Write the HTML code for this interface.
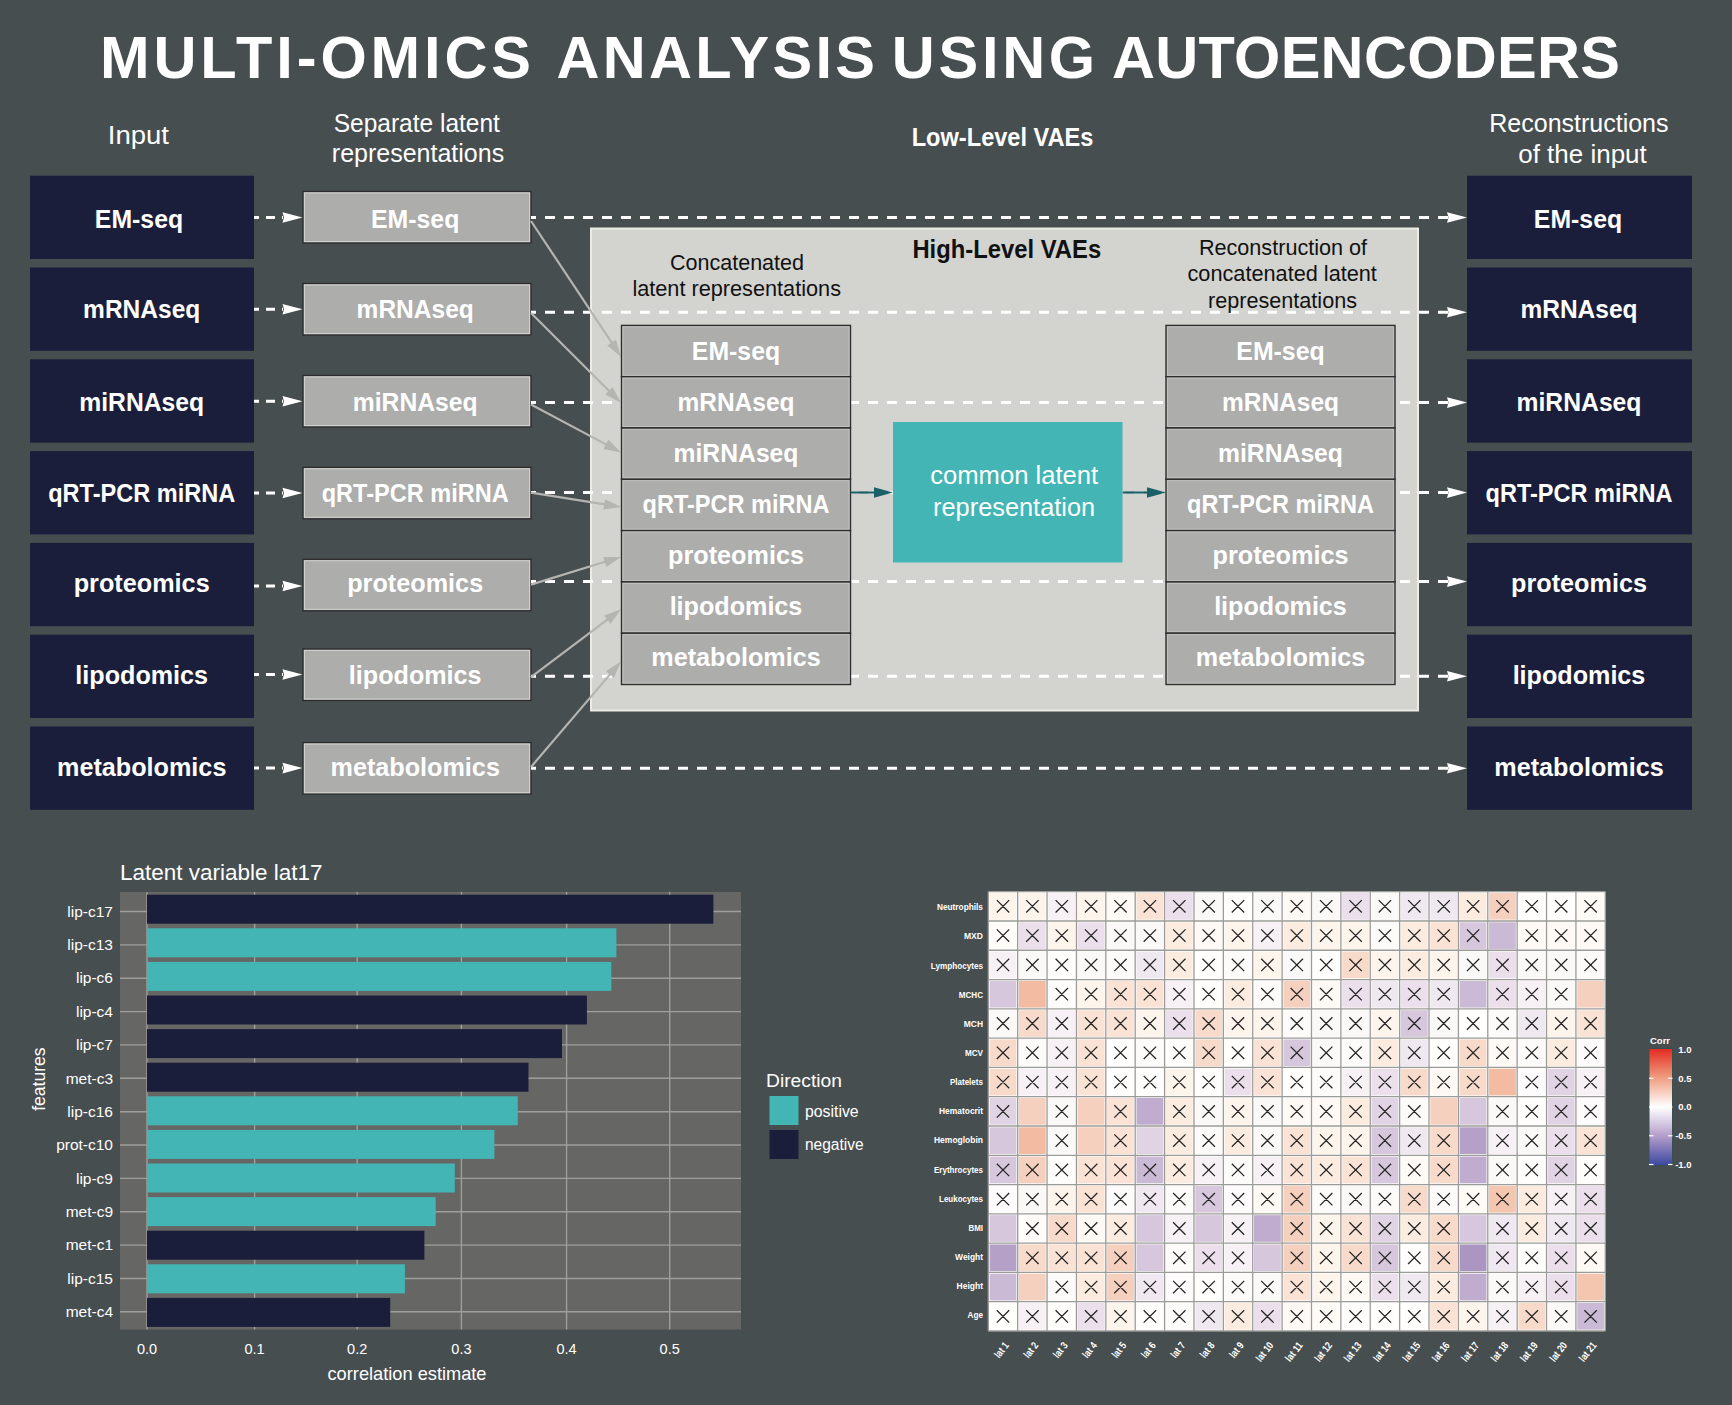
<!DOCTYPE html>
<html><head><meta charset="utf-8"><style>html,body{margin:0;padding:0;background:#474e50;}svg{display:block}</style></head>
<body><svg width="1732" height="1405" viewBox="0 0 1732 1405" font-family='"Liberation Sans", sans-serif'><rect x="0" y="0" width="1732" height="1405" fill="#474e50"/>
<text x="100" y="78" font-size="59.5" font-weight="bold" fill="#fff" text-anchor="start" textLength="431" lengthAdjust="spacing" >MULTI-OMICS</text>
<text x="556.4" y="78" font-size="59.5" font-weight="bold" fill="#fff" text-anchor="start" textLength="318.6" lengthAdjust="spacing" >ANALYSIS</text>
<text x="891.8" y="78" font-size="59.5" font-weight="bold" fill="#fff" text-anchor="start" textLength="203.3" lengthAdjust="spacing" >USING</text>
<text x="1112" y="78" font-size="59.5" font-weight="bold" fill="#fff" text-anchor="start" textLength="507.9" lengthAdjust="spacing" >AUTOENCODERS</text>
<text x="138.4" y="144.2" font-size="25.5" font-weight="normal" fill="#fff" text-anchor="middle" textLength="61.2" lengthAdjust="spacingAndGlyphs" >Input</text>
<text x="416.8" y="131.8" font-size="25" font-weight="normal" fill="#fff" text-anchor="middle" textLength="166.3" lengthAdjust="spacingAndGlyphs" >Separate latent</text>
<text x="418" y="162" font-size="25" font-weight="normal" fill="#fff" text-anchor="middle" textLength="172.3" lengthAdjust="spacingAndGlyphs" >representations</text>
<text x="1002.6" y="146" font-size="26" font-weight="bold" fill="#fff" text-anchor="middle" textLength="181.8" lengthAdjust="spacingAndGlyphs" >Low-Level VAEs</text>
<text x="1578.9" y="131.8" font-size="25" font-weight="normal" fill="#fff" text-anchor="middle" textLength="179.2" lengthAdjust="spacingAndGlyphs" >Reconstructions</text>
<text x="1582.5" y="163" font-size="25" font-weight="normal" fill="#fff" text-anchor="middle" textLength="128.6" lengthAdjust="spacingAndGlyphs" >of the input</text>
<defs>
<marker id="wah" viewBox="0 0 20 12" refX="20" refY="6" markerWidth="20" markerHeight="12" markerUnits="userSpaceOnUse" orient="auto"><path d="M0,0 L20,6 L0,12 L4,6 Z" fill="#fff"/></marker>
</defs>
<rect x="30" y="175.7" width="224" height="83.3" fill="#1b1e3a" />
<text x="139" y="228" font-size="25" font-weight="bold" fill="#fff" text-anchor="middle" textLength="88.3" lengthAdjust="spacingAndGlyphs" >EM-seq</text>
<rect x="30" y="267.5" width="224" height="83.3" fill="#1b1e3a" />
<text x="141.7" y="318" font-size="25" font-weight="bold" fill="#fff" text-anchor="middle" textLength="117.2" lengthAdjust="spacingAndGlyphs" >mRNAseq</text>
<rect x="30" y="359.29999999999995" width="224" height="83.3" fill="#1b1e3a" />
<text x="141.7" y="410.8" font-size="25" font-weight="bold" fill="#fff" text-anchor="middle" textLength="124.9" lengthAdjust="spacingAndGlyphs" >miRNAseq</text>
<rect x="30" y="451.09999999999997" width="224" height="83.3" fill="#1b1e3a" />
<text x="141.7" y="502.4" font-size="25" font-weight="bold" fill="#fff" text-anchor="middle" textLength="186.9" lengthAdjust="spacingAndGlyphs" >qRT-PCR miRNA</text>
<rect x="30" y="542.9" width="224" height="83.3" fill="#1b1e3a" />
<text x="141.7" y="592.4" font-size="25" font-weight="bold" fill="#fff" text-anchor="middle" textLength="136.0" lengthAdjust="spacingAndGlyphs" >proteomics</text>
<rect x="30" y="634.7" width="224" height="83.3" fill="#1b1e3a" />
<text x="141.7" y="684.4" font-size="25" font-weight="bold" fill="#fff" text-anchor="middle" textLength="132.7" lengthAdjust="spacingAndGlyphs" >lipodomics</text>
<rect x="30" y="726.5" width="224" height="83.3" fill="#1b1e3a" />
<text x="141.7" y="776.3" font-size="25" font-weight="bold" fill="#fff" text-anchor="middle" textLength="169.4" lengthAdjust="spacingAndGlyphs" >metabolomics</text>
<rect x="1467" y="175.7" width="225" height="83.3" fill="#1b1e3a" />
<text x="1578" y="228" font-size="25" font-weight="bold" fill="#fff" text-anchor="middle" textLength="88.3" lengthAdjust="spacingAndGlyphs" >EM-seq</text>
<rect x="1467" y="267.5" width="225" height="83.3" fill="#1b1e3a" />
<text x="1579" y="318" font-size="25" font-weight="bold" fill="#fff" text-anchor="middle" textLength="117.2" lengthAdjust="spacingAndGlyphs" >mRNAseq</text>
<rect x="1467" y="359.29999999999995" width="225" height="83.3" fill="#1b1e3a" />
<text x="1579" y="410.8" font-size="25" font-weight="bold" fill="#fff" text-anchor="middle" textLength="124.9" lengthAdjust="spacingAndGlyphs" >miRNAseq</text>
<rect x="1467" y="451.09999999999997" width="225" height="83.3" fill="#1b1e3a" />
<text x="1579" y="502.4" font-size="25" font-weight="bold" fill="#fff" text-anchor="middle" textLength="186.9" lengthAdjust="spacingAndGlyphs" >qRT-PCR miRNA</text>
<rect x="1467" y="542.9" width="225" height="83.3" fill="#1b1e3a" />
<text x="1579" y="592.4" font-size="25" font-weight="bold" fill="#fff" text-anchor="middle" textLength="136.0" lengthAdjust="spacingAndGlyphs" >proteomics</text>
<rect x="1467" y="634.7" width="225" height="83.3" fill="#1b1e3a" />
<text x="1579" y="684.4" font-size="25" font-weight="bold" fill="#fff" text-anchor="middle" textLength="132.7" lengthAdjust="spacingAndGlyphs" >lipodomics</text>
<rect x="1467" y="726.5" width="225" height="83.3" fill="#1b1e3a" />
<text x="1579" y="776.3" font-size="25" font-weight="bold" fill="#fff" text-anchor="middle" textLength="169.4" lengthAdjust="spacingAndGlyphs" >metabolomics</text>
<line x1="254" y1="217.5" x2="283" y2="217.5" stroke="#fff" stroke-width="3" stroke-dasharray="5 7 9 7"/>
<path d="M282.5,212.2 L302.5,217.5 L282.5,222.8 L284,217.5 Z" fill="#fff"/>
<line x1="254" y1="309.3" x2="283" y2="309.3" stroke="#fff" stroke-width="3" stroke-dasharray="5 7 9 7"/>
<path d="M282.5,304.0 L302.5,309.3 L282.5,314.6 L284,309.3 Z" fill="#fff"/>
<line x1="254" y1="401.3" x2="283" y2="401.3" stroke="#fff" stroke-width="3" stroke-dasharray="5 7 9 7"/>
<path d="M282.5,396.0 L302.5,401.3 L282.5,406.6 L284,401.3 Z" fill="#fff"/>
<line x1="254" y1="493.0" x2="283" y2="493.0" stroke="#fff" stroke-width="3" stroke-dasharray="5 7 9 7"/>
<path d="M282.5,487.7 L302.5,493.0 L282.5,498.3 L284,493.0 Z" fill="#fff"/>
<line x1="254" y1="586.0" x2="283" y2="586.0" stroke="#fff" stroke-width="3" stroke-dasharray="5 7 9 7"/>
<path d="M282.5,580.7 L302.5,586.0 L282.5,591.3 L284,586.0 Z" fill="#fff"/>
<line x1="254" y1="674.5" x2="283" y2="674.5" stroke="#fff" stroke-width="3" stroke-dasharray="5 7 9 7"/>
<path d="M282.5,669.2 L302.5,674.5 L282.5,679.8 L284,674.5 Z" fill="#fff"/>
<line x1="254" y1="768.1" x2="283" y2="768.1" stroke="#fff" stroke-width="3" stroke-dasharray="5 7 9 7"/>
<path d="M282.5,762.8000000000001 L302.5,768.1 L282.5,773.4 L284,768.1 Z" fill="#fff"/>
<rect x="303" y="191.5" width="228" height="51.5" fill="#adadac" stroke="#2b2b2b" stroke-width="1.3" />
<rect x="304.5" y="193.0" width="225" height="48.5" fill="none" stroke="#cfcfcb" stroke-width="1" />
<text x="415.2" y="228" font-size="25" font-weight="bold" fill="#fff" text-anchor="middle" textLength="88.3" lengthAdjust="spacingAndGlyphs" >EM-seq</text>
<rect x="303" y="283.5" width="228" height="51.5" fill="#adadac" stroke="#2b2b2b" stroke-width="1.3" />
<rect x="304.5" y="285.0" width="225" height="48.5" fill="none" stroke="#cfcfcb" stroke-width="1" />
<text x="415.2" y="318" font-size="25" font-weight="bold" fill="#fff" text-anchor="middle" textLength="117.2" lengthAdjust="spacingAndGlyphs" >mRNAseq</text>
<rect x="303" y="375.5" width="228" height="51.5" fill="#adadac" stroke="#2b2b2b" stroke-width="1.3" />
<rect x="304.5" y="377.0" width="225" height="48.5" fill="none" stroke="#cfcfcb" stroke-width="1" />
<text x="415.2" y="410.8" font-size="25" font-weight="bold" fill="#fff" text-anchor="middle" textLength="124.9" lengthAdjust="spacingAndGlyphs" >miRNAseq</text>
<rect x="303" y="467.3" width="228" height="51.5" fill="#adadac" stroke="#2b2b2b" stroke-width="1.3" />
<rect x="304.5" y="468.8" width="225" height="48.5" fill="none" stroke="#cfcfcb" stroke-width="1" />
<text x="415.2" y="502.4" font-size="25" font-weight="bold" fill="#fff" text-anchor="middle" textLength="186.9" lengthAdjust="spacingAndGlyphs" >qRT-PCR miRNA</text>
<rect x="303" y="559.3" width="228" height="51.5" fill="#adadac" stroke="#2b2b2b" stroke-width="1.3" />
<rect x="304.5" y="560.8" width="225" height="48.5" fill="none" stroke="#cfcfcb" stroke-width="1" />
<text x="415.2" y="592.4" font-size="25" font-weight="bold" fill="#fff" text-anchor="middle" textLength="136.0" lengthAdjust="spacingAndGlyphs" >proteomics</text>
<rect x="303" y="649.0" width="228" height="51.5" fill="#adadac" stroke="#2b2b2b" stroke-width="1.3" />
<rect x="304.5" y="650.5" width="225" height="48.5" fill="none" stroke="#cfcfcb" stroke-width="1" />
<text x="415.2" y="684.4" font-size="25" font-weight="bold" fill="#fff" text-anchor="middle" textLength="132.7" lengthAdjust="spacingAndGlyphs" >lipodomics</text>
<rect x="303" y="742.6" width="228" height="51.5" fill="#adadac" stroke="#2b2b2b" stroke-width="1.3" />
<rect x="304.5" y="744.1" width="225" height="48.5" fill="none" stroke="#cfcfcb" stroke-width="1" />
<text x="415.2" y="776.3" font-size="25" font-weight="bold" fill="#fff" text-anchor="middle" textLength="169.4" lengthAdjust="spacingAndGlyphs" >metabolomics</text>
<rect x="591" y="228.5" width="827" height="482" fill="#d3d4cf" stroke="#ecebe4" stroke-width="2" />
<line x1="531" y1="217.5" x2="1448" y2="217.5" stroke="#fff" stroke-width="3" stroke-dasharray="10 9" stroke-dashoffset="5"/>
<path d="M1447,212.2 L1467,217.5 L1447,222.8 L1448.5,217.5 Z" fill="#fff"/>
<line x1="531" y1="312.2" x2="1448" y2="312.2" stroke="#fff" stroke-width="3" stroke-dasharray="10 9" stroke-dashoffset="5"/>
<path d="M1447,306.9 L1467,312.2 L1447,317.5 L1448.5,312.2 Z" fill="#fff"/>
<line x1="531" y1="402.6" x2="1448" y2="402.6" stroke="#fff" stroke-width="3" stroke-dasharray="10 9" stroke-dashoffset="5"/>
<path d="M1447,397.3 L1467,402.6 L1447,407.90000000000003 L1448.5,402.6 Z" fill="#fff"/>
<line x1="531" y1="492.6" x2="1448" y2="492.6" stroke="#fff" stroke-width="3" stroke-dasharray="10 9" stroke-dashoffset="5"/>
<path d="M1447,487.3 L1467,492.6 L1447,497.90000000000003 L1448.5,492.6 Z" fill="#fff"/>
<line x1="531" y1="581.6" x2="1448" y2="581.6" stroke="#fff" stroke-width="3" stroke-dasharray="10 9" stroke-dashoffset="5"/>
<path d="M1447,576.3000000000001 L1467,581.6 L1447,586.9 L1448.5,581.6 Z" fill="#fff"/>
<line x1="531" y1="676.2" x2="1448" y2="676.2" stroke="#fff" stroke-width="3" stroke-dasharray="10 9" stroke-dashoffset="5"/>
<path d="M1447,670.9000000000001 L1467,676.2 L1447,681.5 L1448.5,676.2 Z" fill="#fff"/>
<line x1="531" y1="768.2" x2="1448" y2="768.2" stroke="#fff" stroke-width="3" stroke-dasharray="10 9" stroke-dashoffset="5"/>
<path d="M1447,762.9000000000001 L1467,768.2 L1447,773.5 L1448.5,768.2 Z" fill="#fff"/>
<line x1="531" y1="221" x2="612.7" y2="344.2" stroke="#b4b4b0" stroke-width="2.2"/>
<path d="M621,356.7 L607.3,345.4 L615.9,339.7 Z" fill="#b4b4b0"/>
<line x1="531" y1="313" x2="610.4" y2="392.2" stroke="#b4b4b0" stroke-width="2.2"/>
<path d="M621,402.8 L605.3,394.5 L612.6,387.1 Z" fill="#b4b4b0"/>
<line x1="531" y1="404.5" x2="607.8" y2="445.4" stroke="#b4b4b0" stroke-width="2.2"/>
<path d="M621,452.4 L603.5,449.0 L608.4,439.8 Z" fill="#b4b4b0"/>
<line x1="531" y1="492.6" x2="606.2" y2="504.6" stroke="#b4b4b0" stroke-width="2.2"/>
<path d="M621,507 L603.4,509.4 L605.0,499.2 Z" fill="#b4b4b0"/>
<line x1="531" y1="584.6" x2="606.7" y2="561.3" stroke="#b4b4b0" stroke-width="2.2"/>
<path d="M621,556.9 L606.3,566.9 L603.2,556.9 Z" fill="#b4b4b0"/>
<line x1="531" y1="677.2" x2="609.0" y2="618.3" stroke="#b4b4b0" stroke-width="2.2"/>
<path d="M621,609.3 L610.6,623.7 L604.3,615.4 Z" fill="#b4b4b0"/>
<line x1="531" y1="767" x2="611.3" y2="672.9" stroke="#b4b4b0" stroke-width="2.2"/>
<path d="M621,661.5 L613.9,677.8 L606.0,671.1 Z" fill="#b4b4b0"/>
<text x="737" y="269.8" font-size="22" font-weight="normal" fill="#111" text-anchor="middle" textLength="134" lengthAdjust="spacingAndGlyphs" >Concatenated</text>
<text x="736.7" y="296.3" font-size="22" font-weight="normal" fill="#111" text-anchor="middle" textLength="208.6" lengthAdjust="spacingAndGlyphs" >latent representations</text>
<text x="1006.8" y="257.9" font-size="25.4" font-weight="bold" fill="#111" text-anchor="middle" textLength="188.8" lengthAdjust="spacingAndGlyphs" >High-Level VAEs</text>
<text x="1283" y="254.6" font-size="22" font-weight="normal" fill="#111" text-anchor="middle" textLength="168.2" lengthAdjust="spacingAndGlyphs" >Reconstruction of</text>
<text x="1282.2" y="281.1" font-size="22" font-weight="normal" fill="#111" text-anchor="middle" textLength="189.4" lengthAdjust="spacingAndGlyphs" >concatenated latent</text>
<text x="1282.5" y="307.7" font-size="22" font-weight="normal" fill="#111" text-anchor="middle" textLength="149" lengthAdjust="spacingAndGlyphs" >representations</text>
<rect x="621.5" y="325.4" width="229" height="51.3" fill="#adadac" stroke="#2e2e2e" stroke-width="1.4" />
<rect x="623.0" y="326.9" width="226" height="48.3" fill="none" stroke="#c4c4c0" stroke-width="0.8" />
<text x="736.0" y="360.0" font-size="25" font-weight="bold" fill="#fff" text-anchor="middle" textLength="88.3" lengthAdjust="spacingAndGlyphs" >EM-seq</text>
<rect x="621.5" y="376.7" width="229" height="51.3" fill="#adadac" stroke="#2e2e2e" stroke-width="1.4" />
<rect x="623.0" y="378.2" width="226" height="48.3" fill="none" stroke="#c4c4c0" stroke-width="0.8" />
<text x="736.0" y="411.0" font-size="25" font-weight="bold" fill="#fff" text-anchor="middle" textLength="117.2" lengthAdjust="spacingAndGlyphs" >mRNAseq</text>
<rect x="621.5" y="428.0" width="229" height="51.3" fill="#adadac" stroke="#2e2e2e" stroke-width="1.4" />
<rect x="623.0" y="429.5" width="226" height="48.3" fill="none" stroke="#c4c4c0" stroke-width="0.8" />
<text x="736.0" y="462.0" font-size="25" font-weight="bold" fill="#fff" text-anchor="middle" textLength="124.9" lengthAdjust="spacingAndGlyphs" >miRNAseq</text>
<rect x="621.5" y="479.29999999999995" width="229" height="51.3" fill="#adadac" stroke="#2e2e2e" stroke-width="1.4" />
<rect x="623.0" y="480.79999999999995" width="226" height="48.3" fill="none" stroke="#c4c4c0" stroke-width="0.8" />
<text x="736.0" y="513.0" font-size="25" font-weight="bold" fill="#fff" text-anchor="middle" textLength="186.9" lengthAdjust="spacingAndGlyphs" >qRT-PCR miRNA</text>
<rect x="621.5" y="530.5999999999999" width="229" height="51.3" fill="#adadac" stroke="#2e2e2e" stroke-width="1.4" />
<rect x="623.0" y="532.0999999999999" width="226" height="48.3" fill="none" stroke="#c4c4c0" stroke-width="0.8" />
<text x="736.0" y="564.0" font-size="25" font-weight="bold" fill="#fff" text-anchor="middle" textLength="136.0" lengthAdjust="spacingAndGlyphs" >proteomics</text>
<rect x="621.5" y="581.9" width="229" height="51.3" fill="#adadac" stroke="#2e2e2e" stroke-width="1.4" />
<rect x="623.0" y="583.4" width="226" height="48.3" fill="none" stroke="#c4c4c0" stroke-width="0.8" />
<text x="736.0" y="615.0" font-size="25" font-weight="bold" fill="#fff" text-anchor="middle" textLength="132.7" lengthAdjust="spacingAndGlyphs" >lipodomics</text>
<rect x="621.5" y="633.1999999999999" width="229" height="51.3" fill="#adadac" stroke="#2e2e2e" stroke-width="1.4" />
<rect x="623.0" y="634.6999999999999" width="226" height="48.3" fill="none" stroke="#c4c4c0" stroke-width="0.8" />
<text x="736.0" y="666.0" font-size="25" font-weight="bold" fill="#fff" text-anchor="middle" textLength="169.4" lengthAdjust="spacingAndGlyphs" >metabolomics</text>
<rect x="1166" y="325.4" width="229" height="51.3" fill="#adadac" stroke="#2e2e2e" stroke-width="1.4" />
<rect x="1167.5" y="326.9" width="226" height="48.3" fill="none" stroke="#c4c4c0" stroke-width="0.8" />
<text x="1280.5" y="360.0" font-size="25" font-weight="bold" fill="#fff" text-anchor="middle" textLength="88.3" lengthAdjust="spacingAndGlyphs" >EM-seq</text>
<rect x="1166" y="376.7" width="229" height="51.3" fill="#adadac" stroke="#2e2e2e" stroke-width="1.4" />
<rect x="1167.5" y="378.2" width="226" height="48.3" fill="none" stroke="#c4c4c0" stroke-width="0.8" />
<text x="1280.5" y="411.0" font-size="25" font-weight="bold" fill="#fff" text-anchor="middle" textLength="117.2" lengthAdjust="spacingAndGlyphs" >mRNAseq</text>
<rect x="1166" y="428.0" width="229" height="51.3" fill="#adadac" stroke="#2e2e2e" stroke-width="1.4" />
<rect x="1167.5" y="429.5" width="226" height="48.3" fill="none" stroke="#c4c4c0" stroke-width="0.8" />
<text x="1280.5" y="462.0" font-size="25" font-weight="bold" fill="#fff" text-anchor="middle" textLength="124.9" lengthAdjust="spacingAndGlyphs" >miRNAseq</text>
<rect x="1166" y="479.29999999999995" width="229" height="51.3" fill="#adadac" stroke="#2e2e2e" stroke-width="1.4" />
<rect x="1167.5" y="480.79999999999995" width="226" height="48.3" fill="none" stroke="#c4c4c0" stroke-width="0.8" />
<text x="1280.5" y="513.0" font-size="25" font-weight="bold" fill="#fff" text-anchor="middle" textLength="186.9" lengthAdjust="spacingAndGlyphs" >qRT-PCR miRNA</text>
<rect x="1166" y="530.5999999999999" width="229" height="51.3" fill="#adadac" stroke="#2e2e2e" stroke-width="1.4" />
<rect x="1167.5" y="532.0999999999999" width="226" height="48.3" fill="none" stroke="#c4c4c0" stroke-width="0.8" />
<text x="1280.5" y="564.0" font-size="25" font-weight="bold" fill="#fff" text-anchor="middle" textLength="136.0" lengthAdjust="spacingAndGlyphs" >proteomics</text>
<rect x="1166" y="581.9" width="229" height="51.3" fill="#adadac" stroke="#2e2e2e" stroke-width="1.4" />
<rect x="1167.5" y="583.4" width="226" height="48.3" fill="none" stroke="#c4c4c0" stroke-width="0.8" />
<text x="1280.5" y="615.0" font-size="25" font-weight="bold" fill="#fff" text-anchor="middle" textLength="132.7" lengthAdjust="spacingAndGlyphs" >lipodomics</text>
<rect x="1166" y="633.1999999999999" width="229" height="51.3" fill="#adadac" stroke="#2e2e2e" stroke-width="1.4" />
<rect x="1167.5" y="634.6999999999999" width="226" height="48.3" fill="none" stroke="#c4c4c0" stroke-width="0.8" />
<text x="1280.5" y="666.0" font-size="25" font-weight="bold" fill="#fff" text-anchor="middle" textLength="169.4" lengthAdjust="spacingAndGlyphs" >metabolomics</text>
<rect x="893" y="422" width="229.5" height="140.5" fill="#42b5b4" />
<text x="1014.2" y="484.2" font-size="25" font-weight="normal" fill="#fff" text-anchor="middle" textLength="168" lengthAdjust="spacingAndGlyphs" >common latent</text>
<text x="1014.1" y="515.6" font-size="25" font-weight="normal" fill="#fff" text-anchor="middle" textLength="162" lengthAdjust="spacingAndGlyphs" >representation</text>
<line x1="850.5" y1="492.5" x2="878" y2="492.5" stroke="#1b5f68" stroke-width="2.2"/>
<path d="M874,487.3 L893,492.5 L874,497.7 Z" fill="#1b5f68"/>
<line x1="1122.5" y1="492.5" x2="1151" y2="492.5" stroke="#1b5f68" stroke-width="2.2"/>
<path d="M1147,487.3 L1166,492.5 L1147,497.7 Z" fill="#1b5f68"/>
<rect x="120" y="892" width="621" height="437.5" fill="#666664" />
<line x1="147" y1="892" x2="147" y2="1329.5" stroke="#9e9e9a" stroke-width="1.4"/>
<line x1="254.6" y1="892" x2="254.6" y2="1329.5" stroke="#9e9e9a" stroke-width="1.4"/>
<line x1="357.2" y1="892" x2="357.2" y2="1329.5" stroke="#9e9e9a" stroke-width="1.4"/>
<line x1="461.4" y1="892" x2="461.4" y2="1329.5" stroke="#9e9e9a" stroke-width="1.4"/>
<line x1="566.6" y1="892" x2="566.6" y2="1329.5" stroke="#9e9e9a" stroke-width="1.4"/>
<line x1="669.7" y1="892" x2="669.7" y2="1329.5" stroke="#9e9e9a" stroke-width="1.4"/>
<line x1="120" y1="911.5" x2="741" y2="911.5" stroke="#9e9e9a" stroke-width="1.4"/>
<line x1="120" y1="944.9" x2="741" y2="944.9" stroke="#9e9e9a" stroke-width="1.4"/>
<line x1="120" y1="978.2" x2="741" y2="978.2" stroke="#9e9e9a" stroke-width="1.4"/>
<line x1="120" y1="1011.6" x2="741" y2="1011.6" stroke="#9e9e9a" stroke-width="1.4"/>
<line x1="120" y1="1044.9" x2="741" y2="1044.9" stroke="#9e9e9a" stroke-width="1.4"/>
<line x1="120" y1="1078.3" x2="741" y2="1078.3" stroke="#9e9e9a" stroke-width="1.4"/>
<line x1="120" y1="1111.7" x2="741" y2="1111.7" stroke="#9e9e9a" stroke-width="1.4"/>
<line x1="120" y1="1145.0" x2="741" y2="1145.0" stroke="#9e9e9a" stroke-width="1.4"/>
<line x1="120" y1="1178.4" x2="741" y2="1178.4" stroke="#9e9e9a" stroke-width="1.4"/>
<line x1="120" y1="1211.7" x2="741" y2="1211.7" stroke="#9e9e9a" stroke-width="1.4"/>
<line x1="120" y1="1245.1" x2="741" y2="1245.1" stroke="#9e9e9a" stroke-width="1.4"/>
<line x1="120" y1="1278.5" x2="741" y2="1278.5" stroke="#9e9e9a" stroke-width="1.4"/>
<line x1="120" y1="1311.8" x2="741" y2="1311.8" stroke="#9e9e9a" stroke-width="1.4"/>
<rect x="147.0" y="894.7" width="566.4" height="29.0" fill="#1b1e3a" />
<text x="113" y="916.7" font-size="15.5" font-weight="normal" fill="#fff" text-anchor="end" >lip-c17</text>
<rect x="147.0" y="928.3" width="469.4" height="29.0" fill="#42b5b4" />
<text x="113" y="950.1" font-size="15.5" font-weight="normal" fill="#fff" text-anchor="end" >lip-c13</text>
<rect x="147.0" y="961.9" width="464.29999999999995" height="29.0" fill="#42b5b4" />
<text x="113" y="983.4" font-size="15.5" font-weight="normal" fill="#fff" text-anchor="end" >lip-c6</text>
<rect x="147.0" y="995.5" width="439.9" height="29.0" fill="#1b1e3a" />
<text x="113" y="1016.8" font-size="15.5" font-weight="normal" fill="#fff" text-anchor="end" >lip-c4</text>
<rect x="147.0" y="1029.1" width="415.0" height="29.0" fill="#1b1e3a" />
<text x="113" y="1050.1" font-size="15.5" font-weight="normal" fill="#fff" text-anchor="end" >lip-c7</text>
<rect x="147.0" y="1062.7" width="381.5" height="29.0" fill="#1b1e3a" />
<text x="113" y="1083.5" font-size="15.5" font-weight="normal" fill="#fff" text-anchor="end" >met-c3</text>
<rect x="147.0" y="1096.3" width="370.79999999999995" height="29.0" fill="#42b5b4" />
<text x="113" y="1116.9" font-size="15.5" font-weight="normal" fill="#fff" text-anchor="end" >lip-c16</text>
<rect x="147.0" y="1129.9" width="347.4" height="29.0" fill="#42b5b4" />
<text x="113" y="1150.2" font-size="15.5" font-weight="normal" fill="#fff" text-anchor="end" >prot-c10</text>
<rect x="147.0" y="1163.5" width="307.8" height="29.0" fill="#42b5b4" />
<text x="113" y="1183.6" font-size="15.5" font-weight="normal" fill="#fff" text-anchor="end" >lip-c9</text>
<rect x="147.0" y="1197.1" width="288.7" height="29.0" fill="#42b5b4" />
<text x="113" y="1216.9" font-size="15.5" font-weight="normal" fill="#fff" text-anchor="end" >met-c9</text>
<rect x="147.0" y="1230.7" width="277.4" height="29.0" fill="#1b1e3a" />
<text x="113" y="1250.3" font-size="15.5" font-weight="normal" fill="#fff" text-anchor="end" >met-c1</text>
<rect x="147.0" y="1264.3" width="257.9" height="29.0" fill="#42b5b4" />
<text x="113" y="1283.7" font-size="15.5" font-weight="normal" fill="#fff" text-anchor="end" >lip-c15</text>
<rect x="147.0" y="1297.9" width="243.2" height="29.0" fill="#1b1e3a" />
<text x="113" y="1317.0" font-size="15.5" font-weight="normal" fill="#fff" text-anchor="end" >met-c4</text>
<text x="147" y="1353.8" font-size="14.5" font-weight="normal" fill="#fff" text-anchor="middle" >0.0</text>
<text x="254.6" y="1353.8" font-size="14.5" font-weight="normal" fill="#fff" text-anchor="middle" >0.1</text>
<text x="357.2" y="1353.8" font-size="14.5" font-weight="normal" fill="#fff" text-anchor="middle" >0.2</text>
<text x="461.4" y="1353.8" font-size="14.5" font-weight="normal" fill="#fff" text-anchor="middle" >0.3</text>
<text x="566.6" y="1353.8" font-size="14.5" font-weight="normal" fill="#fff" text-anchor="middle" >0.4</text>
<text x="669.7" y="1353.8" font-size="14.5" font-weight="normal" fill="#fff" text-anchor="middle" >0.5</text>
<text x="407" y="1379.6" font-size="19" font-weight="normal" fill="#fff" text-anchor="middle" textLength="159" lengthAdjust="spacingAndGlyphs" >correlation estimate</text>
<text x="120" y="880" font-size="22" font-weight="normal" fill="#fff" text-anchor="start" textLength="202.4" lengthAdjust="spacingAndGlyphs" >Latent variable lat17</text>
<text x="0" y="0" font-size="19" fill="#fff" text-anchor="middle" textLength="63.4" lengthAdjust="spacingAndGlyphs" transform="translate(45.3,1079.1) rotate(-90)">features</text>
<text x="766" y="1086.6" font-size="17.5" font-weight="normal" fill="#fff" text-anchor="start" textLength="76" lengthAdjust="spacingAndGlyphs" >Direction</text>
<rect x="769.5" y="1096" width="29" height="29" fill="#42b5b4" />
<rect x="769.5" y="1130" width="29" height="29" fill="#1b1e3a" />
<text x="805" y="1116.8" font-size="16" font-weight="normal" fill="#fff" text-anchor="start" textLength="53.6" lengthAdjust="spacingAndGlyphs" >positive</text>
<text x="805" y="1150" font-size="16" font-weight="normal" fill="#fff" text-anchor="start" textLength="58.6" lengthAdjust="spacingAndGlyphs" >negative</text>
<rect x="988.3" y="891.7" width="617.0" height="439.3" fill="#fdfdfb" />
<rect x="989.6" y="893.0" width="26.78" height="26.69" fill="#fdf4ec" />
<rect x="1018.98" y="893.0" width="26.78" height="26.69" fill="#fdf4ec" />
<rect x="1048.36" y="893.0" width="26.78" height="26.69" fill="#f7f1f5" />
<rect x="1077.74" y="893.0" width="26.78" height="26.69" fill="#fdf4ec" />
<rect x="1107.12" y="893.0" width="26.78" height="26.69" fill="#fef9f4" />
<rect x="1136.5" y="893.0" width="26.78" height="26.69" fill="#fae3d5" />
<rect x="1165.89" y="893.0" width="26.78" height="26.69" fill="#eadfea" />
<rect x="1195.27" y="893.0" width="26.78" height="26.69" fill="#fbf8f8" />
<rect x="1224.65" y="893.0" width="26.78" height="26.69" fill="#fffefc" />
<rect x="1254.03" y="893.0" width="26.78" height="26.69" fill="#fbf8f8" />
<rect x="1283.41" y="893.0" width="26.78" height="26.69" fill="#fef9f4" />
<rect x="1312.79" y="893.0" width="26.78" height="26.69" fill="#fbf8f8" />
<rect x="1342.17" y="893.0" width="26.78" height="26.69" fill="#eadfea" />
<rect x="1371.55" y="893.0" width="26.78" height="26.69" fill="#fbf8f8" />
<rect x="1400.93" y="893.0" width="26.78" height="26.69" fill="#f0e8f0" />
<rect x="1430.31" y="893.0" width="26.78" height="26.69" fill="#f0e8f0" />
<rect x="1459.7" y="893.0" width="26.78" height="26.69" fill="#fcece0" />
<rect x="1489.08" y="893.0" width="26.78" height="26.69" fill="#f6d0be" />
<rect x="1518.46" y="893.0" width="26.78" height="26.69" fill="#fffefc" />
<rect x="1547.84" y="893.0" width="26.78" height="26.69" fill="#fffefc" />
<rect x="1577.22" y="893.0" width="26.78" height="26.69" fill="#fefbf7" />
<rect x="989.6" y="922.29" width="26.78" height="26.69" fill="#fffcf9" />
<rect x="1018.98" y="922.29" width="26.78" height="26.69" fill="#eadfea" />
<rect x="1048.36" y="922.29" width="26.78" height="26.69" fill="#fdf4ec" />
<rect x="1077.74" y="922.29" width="26.78" height="26.69" fill="#eadfea" />
<rect x="1107.12" y="922.29" width="26.78" height="26.69" fill="#fbf8f8" />
<rect x="1136.5" y="922.29" width="26.78" height="26.69" fill="#fbf8f8" />
<rect x="1165.89" y="922.29" width="26.78" height="26.69" fill="#fcece0" />
<rect x="1195.27" y="922.29" width="26.78" height="26.69" fill="#fef9f4" />
<rect x="1224.65" y="922.29" width="26.78" height="26.69" fill="#fdf4ec" />
<rect x="1254.03" y="922.29" width="26.78" height="26.69" fill="#f7f1f5" />
<rect x="1283.41" y="922.29" width="26.78" height="26.69" fill="#fcece0" />
<rect x="1312.79" y="922.29" width="26.78" height="26.69" fill="#fdf4ec" />
<rect x="1342.17" y="922.29" width="26.78" height="26.69" fill="#fdf4ec" />
<rect x="1371.55" y="922.29" width="26.78" height="26.69" fill="#fdfafa" />
<rect x="1400.93" y="922.29" width="26.78" height="26.69" fill="#fcece0" />
<rect x="1430.31" y="922.29" width="26.78" height="26.69" fill="#fae3d5" />
<rect x="1459.7" y="922.29" width="26.78" height="26.69" fill="#d6c7dc" />
<rect x="1489.08" y="922.29" width="26.78" height="26.69" fill="#cbbad5" />
<rect x="1518.46" y="922.29" width="26.78" height="26.69" fill="#fef9f4" />
<rect x="1547.84" y="922.29" width="26.78" height="26.69" fill="#fef9f4" />
<rect x="1577.22" y="922.29" width="26.78" height="26.69" fill="#fef9f4" />
<rect x="989.6" y="951.57" width="26.78" height="26.69" fill="#f7f1f5" />
<rect x="1018.98" y="951.57" width="26.78" height="26.69" fill="#fbf8f8" />
<rect x="1048.36" y="951.57" width="26.78" height="26.69" fill="#fffefc" />
<rect x="1077.74" y="951.57" width="26.78" height="26.69" fill="#fbf8f8" />
<rect x="1107.12" y="951.57" width="26.78" height="26.69" fill="#fdfafa" />
<rect x="1136.5" y="951.57" width="26.78" height="26.69" fill="#f0e8f0" />
<rect x="1165.89" y="951.57" width="26.78" height="26.69" fill="#fcece0" />
<rect x="1195.27" y="951.57" width="26.78" height="26.69" fill="#fffefc" />
<rect x="1224.65" y="951.57" width="26.78" height="26.69" fill="#fdfafa" />
<rect x="1254.03" y="951.57" width="26.78" height="26.69" fill="#fdf4ec" />
<rect x="1283.41" y="951.57" width="26.78" height="26.69" fill="#fbf8f8" />
<rect x="1312.79" y="951.57" width="26.78" height="26.69" fill="#fffefc" />
<rect x="1342.17" y="951.57" width="26.78" height="26.69" fill="#f8daca" />
<rect x="1371.55" y="951.57" width="26.78" height="26.69" fill="#fdf4ec" />
<rect x="1400.93" y="951.57" width="26.78" height="26.69" fill="#fcece0" />
<rect x="1430.31" y="951.57" width="26.78" height="26.69" fill="#fdf4ec" />
<rect x="1459.7" y="951.57" width="26.78" height="26.69" fill="#fbf8f8" />
<rect x="1489.08" y="951.57" width="26.78" height="26.69" fill="#eadfea" />
<rect x="1518.46" y="951.57" width="26.78" height="26.69" fill="#fbf8f8" />
<rect x="1547.84" y="951.57" width="26.78" height="26.69" fill="#fbf8f8" />
<rect x="1577.22" y="951.57" width="26.78" height="26.69" fill="#fdfafa" />
<rect x="989.6" y="980.86" width="26.78" height="26.69" fill="#d6c7dc" />
<rect x="1018.98" y="980.86" width="26.78" height="26.69" fill="#f3bba2" />
<rect x="1048.36" y="980.86" width="26.78" height="26.69" fill="#fffefc" />
<rect x="1077.74" y="980.86" width="26.78" height="26.69" fill="#fdf4ec" />
<rect x="1107.12" y="980.86" width="26.78" height="26.69" fill="#fae3d5" />
<rect x="1136.5" y="980.86" width="26.78" height="26.69" fill="#fae3d5" />
<rect x="1165.89" y="980.86" width="26.78" height="26.69" fill="#f7f1f5" />
<rect x="1195.27" y="980.86" width="26.78" height="26.69" fill="#fffefc" />
<rect x="1224.65" y="980.86" width="26.78" height="26.69" fill="#fcece0" />
<rect x="1254.03" y="980.86" width="26.78" height="26.69" fill="#fdfafa" />
<rect x="1283.41" y="980.86" width="26.78" height="26.69" fill="#f6d0be" />
<rect x="1312.79" y="980.86" width="26.78" height="26.69" fill="#fef9f4" />
<rect x="1342.17" y="980.86" width="26.78" height="26.69" fill="#eadfea" />
<rect x="1371.55" y="980.86" width="26.78" height="26.69" fill="#f0e8f0" />
<rect x="1400.93" y="980.86" width="26.78" height="26.69" fill="#eadfea" />
<rect x="1430.31" y="980.86" width="26.78" height="26.69" fill="#f0e8f0" />
<rect x="1459.7" y="980.86" width="26.78" height="26.69" fill="#cbbad5" />
<rect x="1489.08" y="980.86" width="26.78" height="26.69" fill="#eadfea" />
<rect x="1518.46" y="980.86" width="26.78" height="26.69" fill="#f7f1f5" />
<rect x="1547.84" y="980.86" width="26.78" height="26.69" fill="#fbf8f8" />
<rect x="1577.22" y="980.86" width="26.78" height="26.69" fill="#f6d0be" />
<rect x="989.6" y="1010.15" width="26.78" height="26.69" fill="#fbf8f8" />
<rect x="1018.98" y="1010.15" width="26.78" height="26.69" fill="#f8daca" />
<rect x="1048.36" y="1010.15" width="26.78" height="26.69" fill="#f7f1f5" />
<rect x="1077.74" y="1010.15" width="26.78" height="26.69" fill="#fae3d5" />
<rect x="1107.12" y="1010.15" width="26.78" height="26.69" fill="#fae3d5" />
<rect x="1136.5" y="1010.15" width="26.78" height="26.69" fill="#fdf4ec" />
<rect x="1165.89" y="1010.15" width="26.78" height="26.69" fill="#eadfea" />
<rect x="1195.27" y="1010.15" width="26.78" height="26.69" fill="#f8daca" />
<rect x="1224.65" y="1010.15" width="26.78" height="26.69" fill="#fdf4ec" />
<rect x="1254.03" y="1010.15" width="26.78" height="26.69" fill="#fdf4ec" />
<rect x="1283.41" y="1010.15" width="26.78" height="26.69" fill="#fdfafa" />
<rect x="1312.79" y="1010.15" width="26.78" height="26.69" fill="#fbf8f8" />
<rect x="1342.17" y="1010.15" width="26.78" height="26.69" fill="#fbf8f8" />
<rect x="1371.55" y="1010.15" width="26.78" height="26.69" fill="#fdf4ec" />
<rect x="1400.93" y="1010.15" width="26.78" height="26.69" fill="#d6c7dc" />
<rect x="1430.31" y="1010.15" width="26.78" height="26.69" fill="#fbf8f8" />
<rect x="1459.7" y="1010.15" width="26.78" height="26.69" fill="#fffefc" />
<rect x="1489.08" y="1010.15" width="26.78" height="26.69" fill="#fdfafa" />
<rect x="1518.46" y="1010.15" width="26.78" height="26.69" fill="#f0e8f0" />
<rect x="1547.84" y="1010.15" width="26.78" height="26.69" fill="#fdf4ec" />
<rect x="1577.22" y="1010.15" width="26.78" height="26.69" fill="#fae3d5" />
<rect x="989.6" y="1039.43" width="26.78" height="26.69" fill="#f8daca" />
<rect x="1018.98" y="1039.43" width="26.78" height="26.69" fill="#fdfafa" />
<rect x="1048.36" y="1039.43" width="26.78" height="26.69" fill="#f7f1f5" />
<rect x="1077.74" y="1039.43" width="26.78" height="26.69" fill="#fae3d5" />
<rect x="1107.12" y="1039.43" width="26.78" height="26.69" fill="#fffefc" />
<rect x="1136.5" y="1039.43" width="26.78" height="26.69" fill="#fdfafa" />
<rect x="1165.89" y="1039.43" width="26.78" height="26.69" fill="#fffefc" />
<rect x="1195.27" y="1039.43" width="26.78" height="26.69" fill="#f8daca" />
<rect x="1224.65" y="1039.43" width="26.78" height="26.69" fill="#fffefc" />
<rect x="1254.03" y="1039.43" width="26.78" height="26.69" fill="#fae3d5" />
<rect x="1283.41" y="1039.43" width="26.78" height="26.69" fill="#d6c7dc" />
<rect x="1312.79" y="1039.43" width="26.78" height="26.69" fill="#fbf8f8" />
<rect x="1342.17" y="1039.43" width="26.78" height="26.69" fill="#fdfafa" />
<rect x="1371.55" y="1039.43" width="26.78" height="26.69" fill="#fcece0" />
<rect x="1400.93" y="1039.43" width="26.78" height="26.69" fill="#f0e8f0" />
<rect x="1430.31" y="1039.43" width="26.78" height="26.69" fill="#fffefc" />
<rect x="1459.7" y="1039.43" width="26.78" height="26.69" fill="#f8daca" />
<rect x="1489.08" y="1039.43" width="26.78" height="26.69" fill="#fef9f4" />
<rect x="1518.46" y="1039.43" width="26.78" height="26.69" fill="#fdfafa" />
<rect x="1547.84" y="1039.43" width="26.78" height="26.69" fill="#fcece0" />
<rect x="1577.22" y="1039.43" width="26.78" height="26.69" fill="#fdfbfb" />
<rect x="989.6" y="1068.72" width="26.78" height="26.69" fill="#f8daca" />
<rect x="1018.98" y="1068.72" width="26.78" height="26.69" fill="#f7f1f5" />
<rect x="1048.36" y="1068.72" width="26.78" height="26.69" fill="#f7f1f5" />
<rect x="1077.74" y="1068.72" width="26.78" height="26.69" fill="#fae3d5" />
<rect x="1107.12" y="1068.72" width="26.78" height="26.69" fill="#fffefc" />
<rect x="1136.5" y="1068.72" width="26.78" height="26.69" fill="#fffefc" />
<rect x="1165.89" y="1068.72" width="26.78" height="26.69" fill="#fdf4ec" />
<rect x="1195.27" y="1068.72" width="26.78" height="26.69" fill="#fffefc" />
<rect x="1224.65" y="1068.72" width="26.78" height="26.69" fill="#eadfea" />
<rect x="1254.03" y="1068.72" width="26.78" height="26.69" fill="#fae3d5" />
<rect x="1283.41" y="1068.72" width="26.78" height="26.69" fill="#fffefc" />
<rect x="1312.79" y="1068.72" width="26.78" height="26.69" fill="#fdfafa" />
<rect x="1342.17" y="1068.72" width="26.78" height="26.69" fill="#f7f1f5" />
<rect x="1371.55" y="1068.72" width="26.78" height="26.69" fill="#eadfea" />
<rect x="1400.93" y="1068.72" width="26.78" height="26.69" fill="#f8daca" />
<rect x="1430.31" y="1068.72" width="26.78" height="26.69" fill="#fef9f4" />
<rect x="1459.7" y="1068.72" width="26.78" height="26.69" fill="#f8daca" />
<rect x="1489.08" y="1068.72" width="26.78" height="26.69" fill="#f3bba2" />
<rect x="1518.46" y="1068.72" width="26.78" height="26.69" fill="#fdfbfb" />
<rect x="1547.84" y="1068.72" width="26.78" height="26.69" fill="#e0d3e3" />
<rect x="1577.22" y="1068.72" width="26.78" height="26.69" fill="#f7f1f5" />
<rect x="989.6" y="1098.01" width="26.78" height="26.69" fill="#e0d3e3" />
<rect x="1018.98" y="1098.01" width="26.78" height="26.69" fill="#f6d0be" />
<rect x="1048.36" y="1098.01" width="26.78" height="26.69" fill="#fbf8f8" />
<rect x="1077.74" y="1098.01" width="26.78" height="26.69" fill="#f6d0be" />
<rect x="1107.12" y="1098.01" width="26.78" height="26.69" fill="#fae3d5" />
<rect x="1136.5" y="1098.01" width="26.78" height="26.69" fill="#c0acce" />
<rect x="1165.89" y="1098.01" width="26.78" height="26.69" fill="#fcece0" />
<rect x="1195.27" y="1098.01" width="26.78" height="26.69" fill="#fbf8f8" />
<rect x="1224.65" y="1098.01" width="26.78" height="26.69" fill="#fdf4ec" />
<rect x="1254.03" y="1098.01" width="26.78" height="26.69" fill="#fbf8f8" />
<rect x="1283.41" y="1098.01" width="26.78" height="26.69" fill="#fef9f4" />
<rect x="1312.79" y="1098.01" width="26.78" height="26.69" fill="#fef9f4" />
<rect x="1342.17" y="1098.01" width="26.78" height="26.69" fill="#fcece0" />
<rect x="1371.55" y="1098.01" width="26.78" height="26.69" fill="#e0d3e3" />
<rect x="1400.93" y="1098.01" width="26.78" height="26.69" fill="#fdfafa" />
<rect x="1430.31" y="1098.01" width="26.78" height="26.69" fill="#f6d0be" />
<rect x="1459.7" y="1098.01" width="26.78" height="26.69" fill="#d6c7dc" />
<rect x="1489.08" y="1098.01" width="26.78" height="26.69" fill="#fbf8f8" />
<rect x="1518.46" y="1098.01" width="26.78" height="26.69" fill="#fffefc" />
<rect x="1547.84" y="1098.01" width="26.78" height="26.69" fill="#e0d3e3" />
<rect x="1577.22" y="1098.01" width="26.78" height="26.69" fill="#fdfbfb" />
<rect x="989.6" y="1127.29" width="26.78" height="26.69" fill="#d6c7dc" />
<rect x="1018.98" y="1127.29" width="26.78" height="26.69" fill="#f3bba2" />
<rect x="1048.36" y="1127.29" width="26.78" height="26.69" fill="#fbf8f8" />
<rect x="1077.74" y="1127.29" width="26.78" height="26.69" fill="#f6d0be" />
<rect x="1107.12" y="1127.29" width="26.78" height="26.69" fill="#fae3d5" />
<rect x="1136.5" y="1127.29" width="26.78" height="26.69" fill="#e0d3e3" />
<rect x="1165.89" y="1127.29" width="26.78" height="26.69" fill="#fcece0" />
<rect x="1195.27" y="1127.29" width="26.78" height="26.69" fill="#fdfafa" />
<rect x="1224.65" y="1127.29" width="26.78" height="26.69" fill="#fcece0" />
<rect x="1254.03" y="1127.29" width="26.78" height="26.69" fill="#fbf8f8" />
<rect x="1283.41" y="1127.29" width="26.78" height="26.69" fill="#fae3d5" />
<rect x="1312.79" y="1127.29" width="26.78" height="26.69" fill="#fdf4ec" />
<rect x="1342.17" y="1127.29" width="26.78" height="26.69" fill="#fdf4ec" />
<rect x="1371.55" y="1127.29" width="26.78" height="26.69" fill="#d6c7dc" />
<rect x="1400.93" y="1127.29" width="26.78" height="26.69" fill="#f0e8f0" />
<rect x="1430.31" y="1127.29" width="26.78" height="26.69" fill="#f8daca" />
<rect x="1459.7" y="1127.29" width="26.78" height="26.69" fill="#b5a1c7" />
<rect x="1489.08" y="1127.29" width="26.78" height="26.69" fill="#f7f1f5" />
<rect x="1518.46" y="1127.29" width="26.78" height="26.69" fill="#fbf8f8" />
<rect x="1547.84" y="1127.29" width="26.78" height="26.69" fill="#eadfea" />
<rect x="1577.22" y="1127.29" width="26.78" height="26.69" fill="#fae3d5" />
<rect x="989.6" y="1156.58" width="26.78" height="26.69" fill="#d6c7dc" />
<rect x="1018.98" y="1156.58" width="26.78" height="26.69" fill="#f6d0be" />
<rect x="1048.36" y="1156.58" width="26.78" height="26.69" fill="#fffefc" />
<rect x="1077.74" y="1156.58" width="26.78" height="26.69" fill="#fae3d5" />
<rect x="1107.12" y="1156.58" width="26.78" height="26.69" fill="#fae3d5" />
<rect x="1136.5" y="1156.58" width="26.78" height="26.69" fill="#cbbad5" />
<rect x="1165.89" y="1156.58" width="26.78" height="26.69" fill="#fcece0" />
<rect x="1195.27" y="1156.58" width="26.78" height="26.69" fill="#f7f1f5" />
<rect x="1224.65" y="1156.58" width="26.78" height="26.69" fill="#fdfafa" />
<rect x="1254.03" y="1156.58" width="26.78" height="26.69" fill="#f7f1f5" />
<rect x="1283.41" y="1156.58" width="26.78" height="26.69" fill="#fae3d5" />
<rect x="1312.79" y="1156.58" width="26.78" height="26.69" fill="#fcece0" />
<rect x="1342.17" y="1156.58" width="26.78" height="26.69" fill="#fae3d5" />
<rect x="1371.55" y="1156.58" width="26.78" height="26.69" fill="#d6c7dc" />
<rect x="1400.93" y="1156.58" width="26.78" height="26.69" fill="#fefbf7" />
<rect x="1430.31" y="1156.58" width="26.78" height="26.69" fill="#f8daca" />
<rect x="1459.7" y="1156.58" width="26.78" height="26.69" fill="#c0acce" />
<rect x="1489.08" y="1156.58" width="26.78" height="26.69" fill="#fbf8f8" />
<rect x="1518.46" y="1156.58" width="26.78" height="26.69" fill="#fffefc" />
<rect x="1547.84" y="1156.58" width="26.78" height="26.69" fill="#e0d3e3" />
<rect x="1577.22" y="1156.58" width="26.78" height="26.69" fill="#fffefc" />
<rect x="989.6" y="1185.87" width="26.78" height="26.69" fill="#fdfbfb" />
<rect x="1018.98" y="1185.87" width="26.78" height="26.69" fill="#fbf8f8" />
<rect x="1048.36" y="1185.87" width="26.78" height="26.69" fill="#fdf4ec" />
<rect x="1077.74" y="1185.87" width="26.78" height="26.69" fill="#fae3d5" />
<rect x="1107.12" y="1185.87" width="26.78" height="26.69" fill="#fdfafa" />
<rect x="1136.5" y="1185.87" width="26.78" height="26.69" fill="#f0e8f0" />
<rect x="1165.89" y="1185.87" width="26.78" height="26.69" fill="#fdfafa" />
<rect x="1195.27" y="1185.87" width="26.78" height="26.69" fill="#d6c7dc" />
<rect x="1224.65" y="1185.87" width="26.78" height="26.69" fill="#fdfbfb" />
<rect x="1254.03" y="1185.87" width="26.78" height="26.69" fill="#fef9f4" />
<rect x="1283.41" y="1185.87" width="26.78" height="26.69" fill="#f6d0be" />
<rect x="1312.79" y="1185.87" width="26.78" height="26.69" fill="#fdfafa" />
<rect x="1342.17" y="1185.87" width="26.78" height="26.69" fill="#fbf8f8" />
<rect x="1371.55" y="1185.87" width="26.78" height="26.69" fill="#fdfafa" />
<rect x="1400.93" y="1185.87" width="26.78" height="26.69" fill="#f8daca" />
<rect x="1430.31" y="1185.87" width="26.78" height="26.69" fill="#fdfafa" />
<rect x="1459.7" y="1185.87" width="26.78" height="26.69" fill="#fefbf7" />
<rect x="1489.08" y="1185.87" width="26.78" height="26.69" fill="#f4c6b0" />
<rect x="1518.46" y="1185.87" width="26.78" height="26.69" fill="#fcece0" />
<rect x="1547.84" y="1185.87" width="26.78" height="26.69" fill="#f7f1f5" />
<rect x="1577.22" y="1185.87" width="26.78" height="26.69" fill="#eadfea" />
<rect x="989.6" y="1215.15" width="26.78" height="26.69" fill="#d6c7dc" />
<rect x="1018.98" y="1215.15" width="26.78" height="26.69" fill="#fffcf9" />
<rect x="1048.36" y="1215.15" width="26.78" height="26.69" fill="#f8daca" />
<rect x="1077.74" y="1215.15" width="26.78" height="26.69" fill="#fef9f4" />
<rect x="1107.12" y="1215.15" width="26.78" height="26.69" fill="#fcece0" />
<rect x="1136.5" y="1215.15" width="26.78" height="26.69" fill="#d6c7dc" />
<rect x="1165.89" y="1215.15" width="26.78" height="26.69" fill="#f7f1f5" />
<rect x="1195.27" y="1215.15" width="26.78" height="26.69" fill="#d6c7dc" />
<rect x="1224.65" y="1215.15" width="26.78" height="26.69" fill="#f7f1f5" />
<rect x="1254.03" y="1215.15" width="26.78" height="26.69" fill="#c0acce" />
<rect x="1283.41" y="1215.15" width="26.78" height="26.69" fill="#f6d0be" />
<rect x="1312.79" y="1215.15" width="26.78" height="26.69" fill="#fdf4ec" />
<rect x="1342.17" y="1215.15" width="26.78" height="26.69" fill="#fae3d5" />
<rect x="1371.55" y="1215.15" width="26.78" height="26.69" fill="#e0d3e3" />
<rect x="1400.93" y="1215.15" width="26.78" height="26.69" fill="#fcece0" />
<rect x="1430.31" y="1215.15" width="26.78" height="26.69" fill="#f8daca" />
<rect x="1459.7" y="1215.15" width="26.78" height="26.69" fill="#d6c7dc" />
<rect x="1489.08" y="1215.15" width="26.78" height="26.69" fill="#f0e8f0" />
<rect x="1518.46" y="1215.15" width="26.78" height="26.69" fill="#fcece0" />
<rect x="1547.84" y="1215.15" width="26.78" height="26.69" fill="#f0e8f0" />
<rect x="1577.22" y="1215.15" width="26.78" height="26.69" fill="#eadfea" />
<rect x="989.6" y="1244.44" width="26.78" height="26.69" fill="#b5a1c7" />
<rect x="1018.98" y="1244.44" width="26.78" height="26.69" fill="#f8daca" />
<rect x="1048.36" y="1244.44" width="26.78" height="26.69" fill="#fae3d5" />
<rect x="1077.74" y="1244.44" width="26.78" height="26.69" fill="#fae3d5" />
<rect x="1107.12" y="1244.44" width="26.78" height="26.69" fill="#f6d0be" />
<rect x="1136.5" y="1244.44" width="26.78" height="26.69" fill="#d6c7dc" />
<rect x="1165.89" y="1244.44" width="26.78" height="26.69" fill="#fdfafa" />
<rect x="1195.27" y="1244.44" width="26.78" height="26.69" fill="#eadfea" />
<rect x="1224.65" y="1244.44" width="26.78" height="26.69" fill="#f7f1f5" />
<rect x="1254.03" y="1244.44" width="26.78" height="26.69" fill="#d6c7dc" />
<rect x="1283.41" y="1244.44" width="26.78" height="26.69" fill="#f6d0be" />
<rect x="1312.79" y="1244.44" width="26.78" height="26.69" fill="#fdf4ec" />
<rect x="1342.17" y="1244.44" width="26.78" height="26.69" fill="#f8daca" />
<rect x="1371.55" y="1244.44" width="26.78" height="26.69" fill="#d6c7dc" />
<rect x="1400.93" y="1244.44" width="26.78" height="26.69" fill="#fffefc" />
<rect x="1430.31" y="1244.44" width="26.78" height="26.69" fill="#f8daca" />
<rect x="1459.7" y="1244.44" width="26.78" height="26.69" fill="#aa96c0" />
<rect x="1489.08" y="1244.44" width="26.78" height="26.69" fill="#f0e8f0" />
<rect x="1518.46" y="1244.44" width="26.78" height="26.69" fill="#fffefc" />
<rect x="1547.84" y="1244.44" width="26.78" height="26.69" fill="#eadfea" />
<rect x="1577.22" y="1244.44" width="26.78" height="26.69" fill="#fef9f4" />
<rect x="989.6" y="1273.73" width="26.78" height="26.69" fill="#cbbad5" />
<rect x="1018.98" y="1273.73" width="26.78" height="26.69" fill="#f6d0be" />
<rect x="1048.36" y="1273.73" width="26.78" height="26.69" fill="#fdfafa" />
<rect x="1077.74" y="1273.73" width="26.78" height="26.69" fill="#fcece0" />
<rect x="1107.12" y="1273.73" width="26.78" height="26.69" fill="#f6d0be" />
<rect x="1136.5" y="1273.73" width="26.78" height="26.69" fill="#f0e8f0" />
<rect x="1165.89" y="1273.73" width="26.78" height="26.69" fill="#fdfbfb" />
<rect x="1195.27" y="1273.73" width="26.78" height="26.69" fill="#fffefc" />
<rect x="1224.65" y="1273.73" width="26.78" height="26.69" fill="#fdfafa" />
<rect x="1254.03" y="1273.73" width="26.78" height="26.69" fill="#fbf8f8" />
<rect x="1283.41" y="1273.73" width="26.78" height="26.69" fill="#fae3d5" />
<rect x="1312.79" y="1273.73" width="26.78" height="26.69" fill="#fdf4ec" />
<rect x="1342.17" y="1273.73" width="26.78" height="26.69" fill="#fef9f4" />
<rect x="1371.55" y="1273.73" width="26.78" height="26.69" fill="#eadfea" />
<rect x="1400.93" y="1273.73" width="26.78" height="26.69" fill="#f0e8f0" />
<rect x="1430.31" y="1273.73" width="26.78" height="26.69" fill="#fcece0" />
<rect x="1459.7" y="1273.73" width="26.78" height="26.69" fill="#c0acce" />
<rect x="1489.08" y="1273.73" width="26.78" height="26.69" fill="#fbf8f8" />
<rect x="1518.46" y="1273.73" width="26.78" height="26.69" fill="#f7f1f5" />
<rect x="1547.84" y="1273.73" width="26.78" height="26.69" fill="#eadfea" />
<rect x="1577.22" y="1273.73" width="26.78" height="26.69" fill="#f4c6b0" />
<rect x="989.6" y="1303.01" width="26.78" height="26.69" fill="#fffefc" />
<rect x="1018.98" y="1303.01" width="26.78" height="26.69" fill="#f7f1f5" />
<rect x="1048.36" y="1303.01" width="26.78" height="26.69" fill="#fffefc" />
<rect x="1077.74" y="1303.01" width="26.78" height="26.69" fill="#eadfea" />
<rect x="1107.12" y="1303.01" width="26.78" height="26.69" fill="#fdf4ec" />
<rect x="1136.5" y="1303.01" width="26.78" height="26.69" fill="#fffefc" />
<rect x="1165.89" y="1303.01" width="26.78" height="26.69" fill="#fdfafa" />
<rect x="1195.27" y="1303.01" width="26.78" height="26.69" fill="#f0e8f0" />
<rect x="1224.65" y="1303.01" width="26.78" height="26.69" fill="#fcece0" />
<rect x="1254.03" y="1303.01" width="26.78" height="26.69" fill="#eadfea" />
<rect x="1283.41" y="1303.01" width="26.78" height="26.69" fill="#fef9f4" />
<rect x="1312.79" y="1303.01" width="26.78" height="26.69" fill="#fefbf7" />
<rect x="1342.17" y="1303.01" width="26.78" height="26.69" fill="#fffefc" />
<rect x="1371.55" y="1303.01" width="26.78" height="26.69" fill="#fffefc" />
<rect x="1400.93" y="1303.01" width="26.78" height="26.69" fill="#fffefc" />
<rect x="1430.31" y="1303.01" width="26.78" height="26.69" fill="#fae3d5" />
<rect x="1459.7" y="1303.01" width="26.78" height="26.69" fill="#fdf4ec" />
<rect x="1489.08" y="1303.01" width="26.78" height="26.69" fill="#f7f1f5" />
<rect x="1518.46" y="1303.01" width="26.78" height="26.69" fill="#f8daca" />
<rect x="1547.84" y="1303.01" width="26.78" height="26.69" fill="#fbf8f8" />
<rect x="1577.22" y="1303.01" width="26.78" height="26.69" fill="#cbbad5" />
<line x1="988.30" y1="891.7" x2="988.30" y2="1331.00" stroke="#9b9b99" stroke-width="1.3"/>
<line x1="1017.68" y1="891.7" x2="1017.68" y2="1331.00" stroke="#9b9b99" stroke-width="1.3"/>
<line x1="1047.06" y1="891.7" x2="1047.06" y2="1331.00" stroke="#9b9b99" stroke-width="1.3"/>
<line x1="1076.44" y1="891.7" x2="1076.44" y2="1331.00" stroke="#9b9b99" stroke-width="1.3"/>
<line x1="1105.82" y1="891.7" x2="1105.82" y2="1331.00" stroke="#9b9b99" stroke-width="1.3"/>
<line x1="1135.20" y1="891.7" x2="1135.20" y2="1331.00" stroke="#9b9b99" stroke-width="1.3"/>
<line x1="1164.59" y1="891.7" x2="1164.59" y2="1331.00" stroke="#9b9b99" stroke-width="1.3"/>
<line x1="1193.97" y1="891.7" x2="1193.97" y2="1331.00" stroke="#9b9b99" stroke-width="1.3"/>
<line x1="1223.35" y1="891.7" x2="1223.35" y2="1331.00" stroke="#9b9b99" stroke-width="1.3"/>
<line x1="1252.73" y1="891.7" x2="1252.73" y2="1331.00" stroke="#9b9b99" stroke-width="1.3"/>
<line x1="1282.11" y1="891.7" x2="1282.11" y2="1331.00" stroke="#9b9b99" stroke-width="1.3"/>
<line x1="1311.49" y1="891.7" x2="1311.49" y2="1331.00" stroke="#9b9b99" stroke-width="1.3"/>
<line x1="1340.87" y1="891.7" x2="1340.87" y2="1331.00" stroke="#9b9b99" stroke-width="1.3"/>
<line x1="1370.25" y1="891.7" x2="1370.25" y2="1331.00" stroke="#9b9b99" stroke-width="1.3"/>
<line x1="1399.63" y1="891.7" x2="1399.63" y2="1331.00" stroke="#9b9b99" stroke-width="1.3"/>
<line x1="1429.01" y1="891.7" x2="1429.01" y2="1331.00" stroke="#9b9b99" stroke-width="1.3"/>
<line x1="1458.40" y1="891.7" x2="1458.40" y2="1331.00" stroke="#9b9b99" stroke-width="1.3"/>
<line x1="1487.78" y1="891.7" x2="1487.78" y2="1331.00" stroke="#9b9b99" stroke-width="1.3"/>
<line x1="1517.16" y1="891.7" x2="1517.16" y2="1331.00" stroke="#9b9b99" stroke-width="1.3"/>
<line x1="1546.54" y1="891.7" x2="1546.54" y2="1331.00" stroke="#9b9b99" stroke-width="1.3"/>
<line x1="1575.92" y1="891.7" x2="1575.92" y2="1331.00" stroke="#9b9b99" stroke-width="1.3"/>
<line x1="1605.30" y1="891.7" x2="1605.30" y2="1331.00" stroke="#9b9b99" stroke-width="1.3"/>
<line x1="988.3" y1="891.70" x2="1605.30" y2="891.70" stroke="#9b9b99" stroke-width="1.3"/>
<line x1="988.3" y1="920.99" x2="1605.30" y2="920.99" stroke="#9b9b99" stroke-width="1.3"/>
<line x1="988.3" y1="950.27" x2="1605.30" y2="950.27" stroke="#9b9b99" stroke-width="1.3"/>
<line x1="988.3" y1="979.56" x2="1605.30" y2="979.56" stroke="#9b9b99" stroke-width="1.3"/>
<line x1="988.3" y1="1008.85" x2="1605.30" y2="1008.85" stroke="#9b9b99" stroke-width="1.3"/>
<line x1="988.3" y1="1038.13" x2="1605.30" y2="1038.13" stroke="#9b9b99" stroke-width="1.3"/>
<line x1="988.3" y1="1067.42" x2="1605.30" y2="1067.42" stroke="#9b9b99" stroke-width="1.3"/>
<line x1="988.3" y1="1096.71" x2="1605.30" y2="1096.71" stroke="#9b9b99" stroke-width="1.3"/>
<line x1="988.3" y1="1125.99" x2="1605.30" y2="1125.99" stroke="#9b9b99" stroke-width="1.3"/>
<line x1="988.3" y1="1155.28" x2="1605.30" y2="1155.28" stroke="#9b9b99" stroke-width="1.3"/>
<line x1="988.3" y1="1184.57" x2="1605.30" y2="1184.57" stroke="#9b9b99" stroke-width="1.3"/>
<line x1="988.3" y1="1213.85" x2="1605.30" y2="1213.85" stroke="#9b9b99" stroke-width="1.3"/>
<line x1="988.3" y1="1243.14" x2="1605.30" y2="1243.14" stroke="#9b9b99" stroke-width="1.3"/>
<line x1="988.3" y1="1272.43" x2="1605.30" y2="1272.43" stroke="#9b9b99" stroke-width="1.3"/>
<line x1="988.3" y1="1301.71" x2="1605.30" y2="1301.71" stroke="#9b9b99" stroke-width="1.3"/>
<line x1="988.3" y1="1331.00" x2="1605.30" y2="1331.00" stroke="#9b9b99" stroke-width="1.3"/>
<path d="M996.8,900.1L1009.2,912.5M996.8,912.5L1009.2,900.1M1026.2,900.1L1038.6,912.5M1026.2,912.5L1038.6,900.1M1055.6,900.1L1068.0,912.5M1055.6,912.5L1068.0,900.1M1084.9,900.1L1097.3,912.5M1084.9,912.5L1097.3,900.1M1114.3,900.1L1126.7,912.5M1114.3,912.5L1126.7,900.1M1143.7,900.1L1156.1,912.5M1143.7,912.5L1156.1,900.1M1173.1,900.1L1185.5,912.5M1173.1,912.5L1185.5,900.1M1202.5,900.1L1214.9,912.5M1202.5,912.5L1214.9,900.1M1231.8,900.1L1244.2,912.5M1231.8,912.5L1244.2,900.1M1261.2,900.1L1273.6,912.5M1261.2,912.5L1273.6,900.1M1290.6,900.1L1303.0,912.5M1290.6,912.5L1303.0,900.1M1320.0,900.1L1332.4,912.5M1320.0,912.5L1332.4,900.1M1349.4,900.1L1361.8,912.5M1349.4,912.5L1361.8,900.1M1378.7,900.1L1391.1,912.5M1378.7,912.5L1391.1,900.1M1408.1,900.1L1420.5,912.5M1408.1,912.5L1420.5,900.1M1437.5,900.1L1449.9,912.5M1437.5,912.5L1449.9,900.1M1466.9,900.1L1479.3,912.5M1466.9,912.5L1479.3,900.1M1496.3,900.1L1508.7,912.5M1496.3,912.5L1508.7,900.1M1525.6,900.1L1538.0,912.5M1525.6,912.5L1538.0,900.1M1555.0,900.1L1567.4,912.5M1555.0,912.5L1567.4,900.1M1584.4,900.1L1596.8,912.5M1584.4,912.5L1596.8,900.1M996.8,929.4L1009.2,941.8M996.8,941.8L1009.2,929.4M1026.2,929.4L1038.6,941.8M1026.2,941.8L1038.6,929.4M1055.6,929.4L1068.0,941.8M1055.6,941.8L1068.0,929.4M1084.9,929.4L1097.3,941.8M1084.9,941.8L1097.3,929.4M1114.3,929.4L1126.7,941.8M1114.3,941.8L1126.7,929.4M1143.7,929.4L1156.1,941.8M1143.7,941.8L1156.1,929.4M1173.1,929.4L1185.5,941.8M1173.1,941.8L1185.5,929.4M1202.5,929.4L1214.9,941.8M1202.5,941.8L1214.9,929.4M1231.8,929.4L1244.2,941.8M1231.8,941.8L1244.2,929.4M1261.2,929.4L1273.6,941.8M1261.2,941.8L1273.6,929.4M1290.6,929.4L1303.0,941.8M1290.6,941.8L1303.0,929.4M1320.0,929.4L1332.4,941.8M1320.0,941.8L1332.4,929.4M1349.4,929.4L1361.8,941.8M1349.4,941.8L1361.8,929.4M1378.7,929.4L1391.1,941.8M1378.7,941.8L1391.1,929.4M1408.1,929.4L1420.5,941.8M1408.1,941.8L1420.5,929.4M1437.5,929.4L1449.9,941.8M1437.5,941.8L1449.9,929.4M1466.9,929.4L1479.3,941.8M1466.9,941.8L1479.3,929.4M1525.6,929.4L1538.0,941.8M1525.6,941.8L1538.0,929.4M1555.0,929.4L1567.4,941.8M1555.0,941.8L1567.4,929.4M1584.4,929.4L1596.8,941.8M1584.4,941.8L1596.8,929.4M996.8,958.7L1009.2,971.1M996.8,971.1L1009.2,958.7M1026.2,958.7L1038.6,971.1M1026.2,971.1L1038.6,958.7M1055.6,958.7L1068.0,971.1M1055.6,971.1L1068.0,958.7M1084.9,958.7L1097.3,971.1M1084.9,971.1L1097.3,958.7M1114.3,958.7L1126.7,971.1M1114.3,971.1L1126.7,958.7M1143.7,958.7L1156.1,971.1M1143.7,971.1L1156.1,958.7M1173.1,958.7L1185.5,971.1M1173.1,971.1L1185.5,958.7M1202.5,958.7L1214.9,971.1M1202.5,971.1L1214.9,958.7M1231.8,958.7L1244.2,971.1M1231.8,971.1L1244.2,958.7M1261.2,958.7L1273.6,971.1M1261.2,971.1L1273.6,958.7M1290.6,958.7L1303.0,971.1M1290.6,971.1L1303.0,958.7M1320.0,958.7L1332.4,971.1M1320.0,971.1L1332.4,958.7M1349.4,958.7L1361.8,971.1M1349.4,971.1L1361.8,958.7M1378.7,958.7L1391.1,971.1M1378.7,971.1L1391.1,958.7M1408.1,958.7L1420.5,971.1M1408.1,971.1L1420.5,958.7M1437.5,958.7L1449.9,971.1M1437.5,971.1L1449.9,958.7M1466.9,958.7L1479.3,971.1M1466.9,971.1L1479.3,958.7M1496.3,958.7L1508.7,971.1M1496.3,971.1L1508.7,958.7M1525.6,958.7L1538.0,971.1M1525.6,971.1L1538.0,958.7M1555.0,958.7L1567.4,971.1M1555.0,971.1L1567.4,958.7M1584.4,958.7L1596.8,971.1M1584.4,971.1L1596.8,958.7M1055.6,988.0L1068.0,1000.4M1055.6,1000.4L1068.0,988.0M1084.9,988.0L1097.3,1000.4M1084.9,1000.4L1097.3,988.0M1114.3,988.0L1126.7,1000.4M1114.3,1000.4L1126.7,988.0M1143.7,988.0L1156.1,1000.4M1143.7,1000.4L1156.1,988.0M1173.1,988.0L1185.5,1000.4M1173.1,1000.4L1185.5,988.0M1202.5,988.0L1214.9,1000.4M1202.5,1000.4L1214.9,988.0M1231.8,988.0L1244.2,1000.4M1231.8,1000.4L1244.2,988.0M1261.2,988.0L1273.6,1000.4M1261.2,1000.4L1273.6,988.0M1290.6,988.0L1303.0,1000.4M1290.6,1000.4L1303.0,988.0M1320.0,988.0L1332.4,1000.4M1320.0,1000.4L1332.4,988.0M1349.4,988.0L1361.8,1000.4M1349.4,1000.4L1361.8,988.0M1378.7,988.0L1391.1,1000.4M1378.7,1000.4L1391.1,988.0M1408.1,988.0L1420.5,1000.4M1408.1,1000.4L1420.5,988.0M1437.5,988.0L1449.9,1000.4M1437.5,1000.4L1449.9,988.0M1496.3,988.0L1508.7,1000.4M1496.3,1000.4L1508.7,988.0M1525.6,988.0L1538.0,1000.4M1525.6,1000.4L1538.0,988.0M1555.0,988.0L1567.4,1000.4M1555.0,1000.4L1567.4,988.0M996.8,1017.3L1009.2,1029.7M996.8,1029.7L1009.2,1017.3M1026.2,1017.3L1038.6,1029.7M1026.2,1029.7L1038.6,1017.3M1055.6,1017.3L1068.0,1029.7M1055.6,1029.7L1068.0,1017.3M1084.9,1017.3L1097.3,1029.7M1084.9,1029.7L1097.3,1017.3M1114.3,1017.3L1126.7,1029.7M1114.3,1029.7L1126.7,1017.3M1143.7,1017.3L1156.1,1029.7M1143.7,1029.7L1156.1,1017.3M1173.1,1017.3L1185.5,1029.7M1173.1,1029.7L1185.5,1017.3M1202.5,1017.3L1214.9,1029.7M1202.5,1029.7L1214.9,1017.3M1231.8,1017.3L1244.2,1029.7M1231.8,1029.7L1244.2,1017.3M1261.2,1017.3L1273.6,1029.7M1261.2,1029.7L1273.6,1017.3M1290.6,1017.3L1303.0,1029.7M1290.6,1029.7L1303.0,1017.3M1320.0,1017.3L1332.4,1029.7M1320.0,1029.7L1332.4,1017.3M1349.4,1017.3L1361.8,1029.7M1349.4,1029.7L1361.8,1017.3M1378.7,1017.3L1391.1,1029.7M1378.7,1029.7L1391.1,1017.3M1408.1,1017.3L1420.5,1029.7M1408.1,1029.7L1420.5,1017.3M1437.5,1017.3L1449.9,1029.7M1437.5,1029.7L1449.9,1017.3M1466.9,1017.3L1479.3,1029.7M1466.9,1029.7L1479.3,1017.3M1496.3,1017.3L1508.7,1029.7M1496.3,1029.7L1508.7,1017.3M1525.6,1017.3L1538.0,1029.7M1525.6,1029.7L1538.0,1017.3M1555.0,1017.3L1567.4,1029.7M1555.0,1029.7L1567.4,1017.3M1584.4,1017.3L1596.8,1029.7M1584.4,1029.7L1596.8,1017.3M996.8,1046.6L1009.2,1059.0M996.8,1059.0L1009.2,1046.6M1026.2,1046.6L1038.6,1059.0M1026.2,1059.0L1038.6,1046.6M1055.6,1046.6L1068.0,1059.0M1055.6,1059.0L1068.0,1046.6M1084.9,1046.6L1097.3,1059.0M1084.9,1059.0L1097.3,1046.6M1114.3,1046.6L1126.7,1059.0M1114.3,1059.0L1126.7,1046.6M1143.7,1046.6L1156.1,1059.0M1143.7,1059.0L1156.1,1046.6M1173.1,1046.6L1185.5,1059.0M1173.1,1059.0L1185.5,1046.6M1202.5,1046.6L1214.9,1059.0M1202.5,1059.0L1214.9,1046.6M1231.8,1046.6L1244.2,1059.0M1231.8,1059.0L1244.2,1046.6M1261.2,1046.6L1273.6,1059.0M1261.2,1059.0L1273.6,1046.6M1290.6,1046.6L1303.0,1059.0M1290.6,1059.0L1303.0,1046.6M1320.0,1046.6L1332.4,1059.0M1320.0,1059.0L1332.4,1046.6M1349.4,1046.6L1361.8,1059.0M1349.4,1059.0L1361.8,1046.6M1378.7,1046.6L1391.1,1059.0M1378.7,1059.0L1391.1,1046.6M1408.1,1046.6L1420.5,1059.0M1408.1,1059.0L1420.5,1046.6M1437.5,1046.6L1449.9,1059.0M1437.5,1059.0L1449.9,1046.6M1466.9,1046.6L1479.3,1059.0M1466.9,1059.0L1479.3,1046.6M1496.3,1046.6L1508.7,1059.0M1496.3,1059.0L1508.7,1046.6M1525.6,1046.6L1538.0,1059.0M1525.6,1059.0L1538.0,1046.6M1555.0,1046.6L1567.4,1059.0M1555.0,1059.0L1567.4,1046.6M1584.4,1046.6L1596.8,1059.0M1584.4,1059.0L1596.8,1046.6M996.8,1075.9L1009.2,1088.3M996.8,1088.3L1009.2,1075.9M1026.2,1075.9L1038.6,1088.3M1026.2,1088.3L1038.6,1075.9M1055.6,1075.9L1068.0,1088.3M1055.6,1088.3L1068.0,1075.9M1084.9,1075.9L1097.3,1088.3M1084.9,1088.3L1097.3,1075.9M1114.3,1075.9L1126.7,1088.3M1114.3,1088.3L1126.7,1075.9M1143.7,1075.9L1156.1,1088.3M1143.7,1088.3L1156.1,1075.9M1173.1,1075.9L1185.5,1088.3M1173.1,1088.3L1185.5,1075.9M1202.5,1075.9L1214.9,1088.3M1202.5,1088.3L1214.9,1075.9M1231.8,1075.9L1244.2,1088.3M1231.8,1088.3L1244.2,1075.9M1261.2,1075.9L1273.6,1088.3M1261.2,1088.3L1273.6,1075.9M1290.6,1075.9L1303.0,1088.3M1290.6,1088.3L1303.0,1075.9M1320.0,1075.9L1332.4,1088.3M1320.0,1088.3L1332.4,1075.9M1349.4,1075.9L1361.8,1088.3M1349.4,1088.3L1361.8,1075.9M1378.7,1075.9L1391.1,1088.3M1378.7,1088.3L1391.1,1075.9M1408.1,1075.9L1420.5,1088.3M1408.1,1088.3L1420.5,1075.9M1437.5,1075.9L1449.9,1088.3M1437.5,1088.3L1449.9,1075.9M1466.9,1075.9L1479.3,1088.3M1466.9,1088.3L1479.3,1075.9M1525.6,1075.9L1538.0,1088.3M1525.6,1088.3L1538.0,1075.9M1555.0,1075.9L1567.4,1088.3M1555.0,1088.3L1567.4,1075.9M1584.4,1075.9L1596.8,1088.3M1584.4,1088.3L1596.8,1075.9M996.8,1105.2L1009.2,1117.6M996.8,1117.6L1009.2,1105.2M1055.6,1105.2L1068.0,1117.6M1055.6,1117.6L1068.0,1105.2M1114.3,1105.2L1126.7,1117.6M1114.3,1117.6L1126.7,1105.2M1173.1,1105.2L1185.5,1117.6M1173.1,1117.6L1185.5,1105.2M1202.5,1105.2L1214.9,1117.6M1202.5,1117.6L1214.9,1105.2M1231.8,1105.2L1244.2,1117.6M1231.8,1117.6L1244.2,1105.2M1261.2,1105.2L1273.6,1117.6M1261.2,1117.6L1273.6,1105.2M1290.6,1105.2L1303.0,1117.6M1290.6,1117.6L1303.0,1105.2M1320.0,1105.2L1332.4,1117.6M1320.0,1117.6L1332.4,1105.2M1349.4,1105.2L1361.8,1117.6M1349.4,1117.6L1361.8,1105.2M1378.7,1105.2L1391.1,1117.6M1378.7,1117.6L1391.1,1105.2M1408.1,1105.2L1420.5,1117.6M1408.1,1117.6L1420.5,1105.2M1496.3,1105.2L1508.7,1117.6M1496.3,1117.6L1508.7,1105.2M1525.6,1105.2L1538.0,1117.6M1525.6,1117.6L1538.0,1105.2M1555.0,1105.2L1567.4,1117.6M1555.0,1117.6L1567.4,1105.2M1584.4,1105.2L1596.8,1117.6M1584.4,1117.6L1596.8,1105.2M1055.6,1134.4L1068.0,1146.8M1055.6,1146.8L1068.0,1134.4M1114.3,1134.4L1126.7,1146.8M1114.3,1146.8L1126.7,1134.4M1173.1,1134.4L1185.5,1146.8M1173.1,1146.8L1185.5,1134.4M1202.5,1134.4L1214.9,1146.8M1202.5,1146.8L1214.9,1134.4M1231.8,1134.4L1244.2,1146.8M1231.8,1146.8L1244.2,1134.4M1261.2,1134.4L1273.6,1146.8M1261.2,1146.8L1273.6,1134.4M1290.6,1134.4L1303.0,1146.8M1290.6,1146.8L1303.0,1134.4M1320.0,1134.4L1332.4,1146.8M1320.0,1146.8L1332.4,1134.4M1349.4,1134.4L1361.8,1146.8M1349.4,1146.8L1361.8,1134.4M1378.7,1134.4L1391.1,1146.8M1378.7,1146.8L1391.1,1134.4M1408.1,1134.4L1420.5,1146.8M1408.1,1146.8L1420.5,1134.4M1437.5,1134.4L1449.9,1146.8M1437.5,1146.8L1449.9,1134.4M1496.3,1134.4L1508.7,1146.8M1496.3,1146.8L1508.7,1134.4M1525.6,1134.4L1538.0,1146.8M1525.6,1146.8L1538.0,1134.4M1555.0,1134.4L1567.4,1146.8M1555.0,1146.8L1567.4,1134.4M1584.4,1134.4L1596.8,1146.8M1584.4,1146.8L1596.8,1134.4M996.8,1163.7L1009.2,1176.1M996.8,1176.1L1009.2,1163.7M1026.2,1163.7L1038.6,1176.1M1026.2,1176.1L1038.6,1163.7M1055.6,1163.7L1068.0,1176.1M1055.6,1176.1L1068.0,1163.7M1084.9,1163.7L1097.3,1176.1M1084.9,1176.1L1097.3,1163.7M1114.3,1163.7L1126.7,1176.1M1114.3,1176.1L1126.7,1163.7M1143.7,1163.7L1156.1,1176.1M1143.7,1176.1L1156.1,1163.7M1173.1,1163.7L1185.5,1176.1M1173.1,1176.1L1185.5,1163.7M1202.5,1163.7L1214.9,1176.1M1202.5,1176.1L1214.9,1163.7M1231.8,1163.7L1244.2,1176.1M1231.8,1176.1L1244.2,1163.7M1261.2,1163.7L1273.6,1176.1M1261.2,1176.1L1273.6,1163.7M1290.6,1163.7L1303.0,1176.1M1290.6,1176.1L1303.0,1163.7M1320.0,1163.7L1332.4,1176.1M1320.0,1176.1L1332.4,1163.7M1349.4,1163.7L1361.8,1176.1M1349.4,1176.1L1361.8,1163.7M1378.7,1163.7L1391.1,1176.1M1378.7,1176.1L1391.1,1163.7M1408.1,1163.7L1420.5,1176.1M1408.1,1176.1L1420.5,1163.7M1437.5,1163.7L1449.9,1176.1M1437.5,1176.1L1449.9,1163.7M1496.3,1163.7L1508.7,1176.1M1496.3,1176.1L1508.7,1163.7M1525.6,1163.7L1538.0,1176.1M1525.6,1176.1L1538.0,1163.7M1555.0,1163.7L1567.4,1176.1M1555.0,1176.1L1567.4,1163.7M1584.4,1163.7L1596.8,1176.1M1584.4,1176.1L1596.8,1163.7M996.8,1193.0L1009.2,1205.4M996.8,1205.4L1009.2,1193.0M1026.2,1193.0L1038.6,1205.4M1026.2,1205.4L1038.6,1193.0M1055.6,1193.0L1068.0,1205.4M1055.6,1205.4L1068.0,1193.0M1084.9,1193.0L1097.3,1205.4M1084.9,1205.4L1097.3,1193.0M1114.3,1193.0L1126.7,1205.4M1114.3,1205.4L1126.7,1193.0M1143.7,1193.0L1156.1,1205.4M1143.7,1205.4L1156.1,1193.0M1173.1,1193.0L1185.5,1205.4M1173.1,1205.4L1185.5,1193.0M1202.5,1193.0L1214.9,1205.4M1202.5,1205.4L1214.9,1193.0M1231.8,1193.0L1244.2,1205.4M1231.8,1205.4L1244.2,1193.0M1261.2,1193.0L1273.6,1205.4M1261.2,1205.4L1273.6,1193.0M1290.6,1193.0L1303.0,1205.4M1290.6,1205.4L1303.0,1193.0M1320.0,1193.0L1332.4,1205.4M1320.0,1205.4L1332.4,1193.0M1349.4,1193.0L1361.8,1205.4M1349.4,1205.4L1361.8,1193.0M1378.7,1193.0L1391.1,1205.4M1378.7,1205.4L1391.1,1193.0M1408.1,1193.0L1420.5,1205.4M1408.1,1205.4L1420.5,1193.0M1437.5,1193.0L1449.9,1205.4M1437.5,1205.4L1449.9,1193.0M1466.9,1193.0L1479.3,1205.4M1466.9,1205.4L1479.3,1193.0M1496.3,1193.0L1508.7,1205.4M1496.3,1205.4L1508.7,1193.0M1525.6,1193.0L1538.0,1205.4M1525.6,1205.4L1538.0,1193.0M1555.0,1193.0L1567.4,1205.4M1555.0,1205.4L1567.4,1193.0M1584.4,1193.0L1596.8,1205.4M1584.4,1205.4L1596.8,1193.0M1026.2,1222.3L1038.6,1234.7M1026.2,1234.7L1038.6,1222.3M1055.6,1222.3L1068.0,1234.7M1055.6,1234.7L1068.0,1222.3M1084.9,1222.3L1097.3,1234.7M1084.9,1234.7L1097.3,1222.3M1114.3,1222.3L1126.7,1234.7M1114.3,1234.7L1126.7,1222.3M1173.1,1222.3L1185.5,1234.7M1173.1,1234.7L1185.5,1222.3M1231.8,1222.3L1244.2,1234.7M1231.8,1234.7L1244.2,1222.3M1290.6,1222.3L1303.0,1234.7M1290.6,1234.7L1303.0,1222.3M1320.0,1222.3L1332.4,1234.7M1320.0,1234.7L1332.4,1222.3M1349.4,1222.3L1361.8,1234.7M1349.4,1234.7L1361.8,1222.3M1378.7,1222.3L1391.1,1234.7M1378.7,1234.7L1391.1,1222.3M1408.1,1222.3L1420.5,1234.7M1408.1,1234.7L1420.5,1222.3M1437.5,1222.3L1449.9,1234.7M1437.5,1234.7L1449.9,1222.3M1496.3,1222.3L1508.7,1234.7M1496.3,1234.7L1508.7,1222.3M1525.6,1222.3L1538.0,1234.7M1525.6,1234.7L1538.0,1222.3M1555.0,1222.3L1567.4,1234.7M1555.0,1234.7L1567.4,1222.3M1584.4,1222.3L1596.8,1234.7M1584.4,1234.7L1596.8,1222.3M1026.2,1251.6L1038.6,1264.0M1026.2,1264.0L1038.6,1251.6M1055.6,1251.6L1068.0,1264.0M1055.6,1264.0L1068.0,1251.6M1084.9,1251.6L1097.3,1264.0M1084.9,1264.0L1097.3,1251.6M1114.3,1251.6L1126.7,1264.0M1114.3,1264.0L1126.7,1251.6M1173.1,1251.6L1185.5,1264.0M1173.1,1264.0L1185.5,1251.6M1202.5,1251.6L1214.9,1264.0M1202.5,1264.0L1214.9,1251.6M1231.8,1251.6L1244.2,1264.0M1231.8,1264.0L1244.2,1251.6M1290.6,1251.6L1303.0,1264.0M1290.6,1264.0L1303.0,1251.6M1320.0,1251.6L1332.4,1264.0M1320.0,1264.0L1332.4,1251.6M1349.4,1251.6L1361.8,1264.0M1349.4,1264.0L1361.8,1251.6M1378.7,1251.6L1391.1,1264.0M1378.7,1264.0L1391.1,1251.6M1408.1,1251.6L1420.5,1264.0M1408.1,1264.0L1420.5,1251.6M1437.5,1251.6L1449.9,1264.0M1437.5,1264.0L1449.9,1251.6M1496.3,1251.6L1508.7,1264.0M1496.3,1264.0L1508.7,1251.6M1525.6,1251.6L1538.0,1264.0M1525.6,1264.0L1538.0,1251.6M1555.0,1251.6L1567.4,1264.0M1555.0,1264.0L1567.4,1251.6M1584.4,1251.6L1596.8,1264.0M1584.4,1264.0L1596.8,1251.6M1055.6,1280.9L1068.0,1293.3M1055.6,1293.3L1068.0,1280.9M1084.9,1280.9L1097.3,1293.3M1084.9,1293.3L1097.3,1280.9M1114.3,1280.9L1126.7,1293.3M1114.3,1293.3L1126.7,1280.9M1143.7,1280.9L1156.1,1293.3M1143.7,1293.3L1156.1,1280.9M1173.1,1280.9L1185.5,1293.3M1173.1,1293.3L1185.5,1280.9M1202.5,1280.9L1214.9,1293.3M1202.5,1293.3L1214.9,1280.9M1231.8,1280.9L1244.2,1293.3M1231.8,1293.3L1244.2,1280.9M1261.2,1280.9L1273.6,1293.3M1261.2,1293.3L1273.6,1280.9M1290.6,1280.9L1303.0,1293.3M1290.6,1293.3L1303.0,1280.9M1320.0,1280.9L1332.4,1293.3M1320.0,1293.3L1332.4,1280.9M1349.4,1280.9L1361.8,1293.3M1349.4,1293.3L1361.8,1280.9M1378.7,1280.9L1391.1,1293.3M1378.7,1293.3L1391.1,1280.9M1408.1,1280.9L1420.5,1293.3M1408.1,1293.3L1420.5,1280.9M1437.5,1280.9L1449.9,1293.3M1437.5,1293.3L1449.9,1280.9M1496.3,1280.9L1508.7,1293.3M1496.3,1293.3L1508.7,1280.9M1525.6,1280.9L1538.0,1293.3M1525.6,1293.3L1538.0,1280.9M1555.0,1280.9L1567.4,1293.3M1555.0,1293.3L1567.4,1280.9M996.8,1310.2L1009.2,1322.6M996.8,1322.6L1009.2,1310.2M1026.2,1310.2L1038.6,1322.6M1026.2,1322.6L1038.6,1310.2M1055.6,1310.2L1068.0,1322.6M1055.6,1322.6L1068.0,1310.2M1084.9,1310.2L1097.3,1322.6M1084.9,1322.6L1097.3,1310.2M1114.3,1310.2L1126.7,1322.6M1114.3,1322.6L1126.7,1310.2M1143.7,1310.2L1156.1,1322.6M1143.7,1322.6L1156.1,1310.2M1173.1,1310.2L1185.5,1322.6M1173.1,1322.6L1185.5,1310.2M1202.5,1310.2L1214.9,1322.6M1202.5,1322.6L1214.9,1310.2M1231.8,1310.2L1244.2,1322.6M1231.8,1322.6L1244.2,1310.2M1261.2,1310.2L1273.6,1322.6M1261.2,1322.6L1273.6,1310.2M1290.6,1310.2L1303.0,1322.6M1290.6,1322.6L1303.0,1310.2M1320.0,1310.2L1332.4,1322.6M1320.0,1322.6L1332.4,1310.2M1349.4,1310.2L1361.8,1322.6M1349.4,1322.6L1361.8,1310.2M1378.7,1310.2L1391.1,1322.6M1378.7,1322.6L1391.1,1310.2M1408.1,1310.2L1420.5,1322.6M1408.1,1322.6L1420.5,1310.2M1437.5,1310.2L1449.9,1322.6M1437.5,1322.6L1449.9,1310.2M1466.9,1310.2L1479.3,1322.6M1466.9,1322.6L1479.3,1310.2M1496.3,1310.2L1508.7,1322.6M1496.3,1322.6L1508.7,1310.2M1525.6,1310.2L1538.0,1322.6M1525.6,1322.6L1538.0,1310.2M1555.0,1310.2L1567.4,1322.6M1555.0,1322.6L1567.4,1310.2M1584.4,1310.2L1596.8,1322.6M1584.4,1322.6L1596.8,1310.2" stroke="#262626" stroke-width="1.3" fill="none"/>
<text x="983" y="910.2" font-size="9.2" font-weight="bold" fill="#fff" text-anchor="end" textLength="46.1" lengthAdjust="spacingAndGlyphs" >Neutrophils</text>
<text x="983" y="939.3" font-size="9.2" font-weight="bold" fill="#fff" text-anchor="end" textLength="19" lengthAdjust="spacingAndGlyphs" >MXD</text>
<text x="983" y="968.5" font-size="9.2" font-weight="bold" fill="#fff" text-anchor="end" textLength="52.2" lengthAdjust="spacingAndGlyphs" >Lymphocytes</text>
<text x="983" y="997.6" font-size="9.2" font-weight="bold" fill="#fff" text-anchor="end" textLength="24.2" lengthAdjust="spacingAndGlyphs" >MCHC</text>
<text x="983" y="1026.8" font-size="9.2" font-weight="bold" fill="#fff" text-anchor="end" textLength="19.2" lengthAdjust="spacingAndGlyphs" >MCH</text>
<text x="983" y="1055.9" font-size="9.2" font-weight="bold" fill="#fff" text-anchor="end" textLength="18.1" lengthAdjust="spacingAndGlyphs" >MCV</text>
<text x="983" y="1085.0" font-size="9.2" font-weight="bold" fill="#fff" text-anchor="end" textLength="33.1" lengthAdjust="spacingAndGlyphs" >Platelets</text>
<text x="983" y="1114.2" font-size="9.2" font-weight="bold" fill="#fff" text-anchor="end" textLength="44" lengthAdjust="spacingAndGlyphs" >Hematocrit</text>
<text x="983" y="1143.3" font-size="9.2" font-weight="bold" fill="#fff" text-anchor="end" textLength="49" lengthAdjust="spacingAndGlyphs" >Hemoglobin</text>
<text x="983" y="1172.5" font-size="9.2" font-weight="bold" fill="#fff" text-anchor="end" textLength="49" lengthAdjust="spacingAndGlyphs" >Erythrocytes</text>
<text x="983" y="1201.6" font-size="9.2" font-weight="bold" fill="#fff" text-anchor="end" textLength="44" lengthAdjust="spacingAndGlyphs" >Leukocytes</text>
<text x="983" y="1230.7" font-size="9.2" font-weight="bold" fill="#fff" text-anchor="end" textLength="14.5" lengthAdjust="spacingAndGlyphs" >BMI</text>
<text x="983" y="1259.9" font-size="9.2" font-weight="bold" fill="#fff" text-anchor="end" textLength="27.9" lengthAdjust="spacingAndGlyphs" >Weight</text>
<text x="983" y="1289.0" font-size="9.2" font-weight="bold" fill="#fff" text-anchor="end" textLength="26.5" lengthAdjust="spacingAndGlyphs" >Height</text>
<text x="983" y="1318.2" font-size="9.2" font-weight="bold" fill="#fff" text-anchor="end" textLength="15.4" lengthAdjust="spacingAndGlyphs" >Age</text>
<text x="0" y="0" font-size="10.5" font-weight="bold" fill="#fff" text-anchor="end" textLength="16.8" lengthAdjust="spacingAndGlyphs" transform="translate(1009.5,1345.5) rotate(-52)">lat 1</text>
<text x="0" y="0" font-size="10.5" font-weight="bold" fill="#fff" text-anchor="end" textLength="16.8" lengthAdjust="spacingAndGlyphs" transform="translate(1038.9,1345.5) rotate(-52)">lat 2</text>
<text x="0" y="0" font-size="10.5" font-weight="bold" fill="#fff" text-anchor="end" textLength="16.8" lengthAdjust="spacingAndGlyphs" transform="translate(1068.3,1345.5) rotate(-52)">lat 3</text>
<text x="0" y="0" font-size="10.5" font-weight="bold" fill="#fff" text-anchor="end" textLength="16.8" lengthAdjust="spacingAndGlyphs" transform="translate(1097.6,1345.5) rotate(-52)">lat 4</text>
<text x="0" y="0" font-size="10.5" font-weight="bold" fill="#fff" text-anchor="end" textLength="16.8" lengthAdjust="spacingAndGlyphs" transform="translate(1127.0,1345.5) rotate(-52)">lat 5</text>
<text x="0" y="0" font-size="10.5" font-weight="bold" fill="#fff" text-anchor="end" textLength="16.8" lengthAdjust="spacingAndGlyphs" transform="translate(1156.4,1345.5) rotate(-52)">lat 6</text>
<text x="0" y="0" font-size="10.5" font-weight="bold" fill="#fff" text-anchor="end" textLength="16.8" lengthAdjust="spacingAndGlyphs" transform="translate(1185.8,1345.5) rotate(-52)">lat 7</text>
<text x="0" y="0" font-size="10.5" font-weight="bold" fill="#fff" text-anchor="end" textLength="16.8" lengthAdjust="spacingAndGlyphs" transform="translate(1215.2,1345.5) rotate(-52)">lat 8</text>
<text x="0" y="0" font-size="10.5" font-weight="bold" fill="#fff" text-anchor="end" textLength="16.8" lengthAdjust="spacingAndGlyphs" transform="translate(1244.5,1345.5) rotate(-52)">lat 9</text>
<text x="0" y="0" font-size="10.5" font-weight="bold" fill="#fff" text-anchor="end" textLength="21.5" lengthAdjust="spacingAndGlyphs" transform="translate(1273.9,1345.5) rotate(-52)">lat 10</text>
<text x="0" y="0" font-size="10.5" font-weight="bold" fill="#fff" text-anchor="end" textLength="21.5" lengthAdjust="spacingAndGlyphs" transform="translate(1303.3,1345.5) rotate(-52)">lat 11</text>
<text x="0" y="0" font-size="10.5" font-weight="bold" fill="#fff" text-anchor="end" textLength="21.5" lengthAdjust="spacingAndGlyphs" transform="translate(1332.7,1345.5) rotate(-52)">lat 12</text>
<text x="0" y="0" font-size="10.5" font-weight="bold" fill="#fff" text-anchor="end" textLength="21.5" lengthAdjust="spacingAndGlyphs" transform="translate(1362.1,1345.5) rotate(-52)">lat 13</text>
<text x="0" y="0" font-size="10.5" font-weight="bold" fill="#fff" text-anchor="end" textLength="21.5" lengthAdjust="spacingAndGlyphs" transform="translate(1391.4,1345.5) rotate(-52)">lat 14</text>
<text x="0" y="0" font-size="10.5" font-weight="bold" fill="#fff" text-anchor="end" textLength="21.5" lengthAdjust="spacingAndGlyphs" transform="translate(1420.8,1345.5) rotate(-52)">lat 15</text>
<text x="0" y="0" font-size="10.5" font-weight="bold" fill="#fff" text-anchor="end" textLength="21.5" lengthAdjust="spacingAndGlyphs" transform="translate(1450.2,1345.5) rotate(-52)">lat 16</text>
<text x="0" y="0" font-size="10.5" font-weight="bold" fill="#fff" text-anchor="end" textLength="21.5" lengthAdjust="spacingAndGlyphs" transform="translate(1479.6,1345.5) rotate(-52)">lat 17</text>
<text x="0" y="0" font-size="10.5" font-weight="bold" fill="#fff" text-anchor="end" textLength="21.5" lengthAdjust="spacingAndGlyphs" transform="translate(1509.0,1345.5) rotate(-52)">lat 18</text>
<text x="0" y="0" font-size="10.5" font-weight="bold" fill="#fff" text-anchor="end" textLength="21.5" lengthAdjust="spacingAndGlyphs" transform="translate(1538.3,1345.5) rotate(-52)">lat 19</text>
<text x="0" y="0" font-size="10.5" font-weight="bold" fill="#fff" text-anchor="end" textLength="21.5" lengthAdjust="spacingAndGlyphs" transform="translate(1567.7,1345.5) rotate(-52)">lat 20</text>
<text x="0" y="0" font-size="10.5" font-weight="bold" fill="#fff" text-anchor="end" textLength="21.5" lengthAdjust="spacingAndGlyphs" transform="translate(1597.1,1345.5) rotate(-52)">lat 21</text>
<defs><linearGradient id="cb" x1="0" y1="0" x2="0" y2="1">
<stop offset="0" stop-color="#e42a1f"/><stop offset="0.25" stop-color="#ef9d80"/><stop offset="0.5" stop-color="#ffffff"/><stop offset="0.75" stop-color="#b39ccb"/><stop offset="1" stop-color="#3a47a0"/></linearGradient></defs>
<rect x="1649" y="1048.5" width="23.5" height="117" fill="url(#cb)" stroke="#3a5050" stroke-width="1" />
<text x="1691.5" y="1052.8" font-size="9.5" font-weight="bold" fill="#fff" text-anchor="end" >1.0</text>
<line x1="1649" y1="1078.25" x2="1653.5" y2="1078.25" stroke="#fff" stroke-width="1.2"/><line x1="1668" y1="1078.25" x2="1672.5" y2="1078.25" stroke="#fff" stroke-width="1.2"/>
<text x="1691.5" y="1081.5" font-size="9.5" font-weight="bold" fill="#fff" text-anchor="end" >0.5</text>
<line x1="1649" y1="1107.0" x2="1653.5" y2="1107.0" stroke="#fff" stroke-width="1.2"/><line x1="1668" y1="1107.0" x2="1672.5" y2="1107.0" stroke="#fff" stroke-width="1.2"/>
<text x="1691.5" y="1110.3" font-size="9.5" font-weight="bold" fill="#fff" text-anchor="end" >0.0</text>
<line x1="1649" y1="1135.75" x2="1653.5" y2="1135.75" stroke="#fff" stroke-width="1.2"/><line x1="1668" y1="1135.75" x2="1672.5" y2="1135.75" stroke="#fff" stroke-width="1.2"/>
<text x="1691.5" y="1139.0" font-size="9.5" font-weight="bold" fill="#fff" text-anchor="end" >-0.5</text>
<line x1="1649" y1="1164.5" x2="1653.5" y2="1164.5" stroke="#fff" stroke-width="1.2"/><line x1="1668" y1="1164.5" x2="1672.5" y2="1164.5" stroke="#fff" stroke-width="1.2"/>
<text x="1691.5" y="1167.8" font-size="9.5" font-weight="bold" fill="#fff" text-anchor="end" >-1.0</text>
<text x="1660" y="1044" font-size="9.5" font-weight="bold" fill="#fff" text-anchor="middle" >Corr</text></svg></body></html>
